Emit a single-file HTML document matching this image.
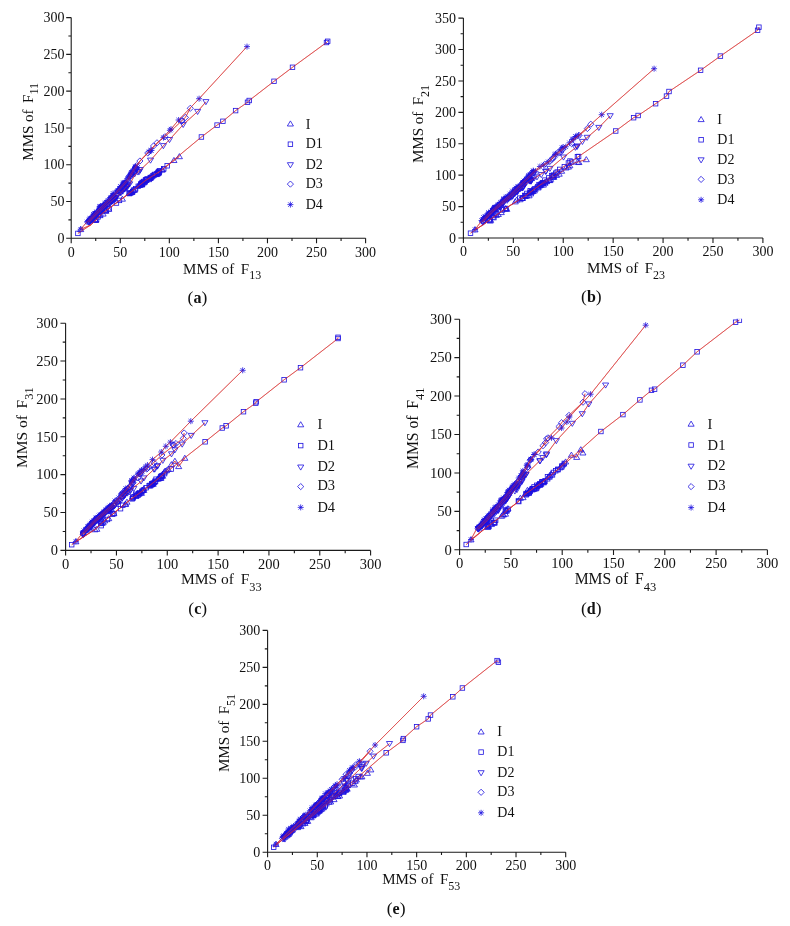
<!DOCTYPE html>
<html lang="en"><head><meta charset="utf-8"><title>MMS scatter figure</title>
<style>html,body{margin:0;padding:0;background:#fff}svg{display:block;will-change:transform}text{font-family:"Liberation Serif", "DejaVu Serif", serif;fill:#111}.ax{stroke:#1a1a1a;stroke-width:1.1;fill:none}.ln{stroke:#d03a26;stroke-width:0.65;fill:none}.over{stroke-opacity:0.5;stroke:#e02a3a;stroke-width:1}.m{stroke:#1c10e0;stroke-width:0.8;fill:none}.ms{stroke:#1c10e0;stroke-width:0.8;fill:none}</style></head><body>
<svg width="790" height="926" viewBox="0 0 790 926">
<rect width="790" height="926" fill="#fff"/>
<defs>
<path id="mI" class="m" d="M0,-2.9L3.05,2.2L-3.05,2.2Z"/>
<rect id="mD1" class="m" x="-2.25" y="-2.25" width="4.5" height="4.5"/>
<path id="mD2" class="m" d="M0,2.9L3.05,-2.2L-3.05,-2.2Z"/>
<path id="mD3" class="m" d="M0,-3.1L3.1,0L0,3.1L-3.1,0Z"/>
<path id="mD4" class="ms" d="M-3,0H3M0,-3V3M-2.2,-2.2L2.2,2.2M-2.2,2.2L2.2,-2.2"/>
</defs>
<g id="panel-a">
<path class="ax" d="M71.2,17.6V238.3H365.6M71.2,238.3v5M95.73,238.3v2.8M120.27,238.3v5M144.8,238.3v2.8M169.33,238.3v5M193.87,238.3v2.8M218.4,238.3v5M242.93,238.3v2.8M267.47,238.3v5M292,238.3v2.8M316.53,238.3v5M341.07,238.3v2.8M365.6,238.3v5M71.2,238.3h-5M71.2,219.91h-2.8M71.2,201.52h-5M71.2,183.12h-2.8M71.2,164.73h-5M71.2,146.34h-2.8M71.2,127.95h-5M71.2,109.56h-2.8M71.2,91.17h-5M71.2,72.78h-2.8M71.2,54.38h-5M71.2,35.99h-2.8M71.2,17.6h-5"/>
<g font-size="14">
<g text-anchor="middle">
<text x="71.2" y="256.7">0</text>
<text x="120.27" y="256.7">50</text>
<text x="169.33" y="256.7">100</text>
<text x="218.4" y="256.7">150</text>
<text x="267.47" y="256.7">200</text>
<text x="316.53" y="256.7">250</text>
<text x="365.6" y="256.7">300</text>
</g><g text-anchor="end">
<text x="64.5" y="242.9">0</text>
<text x="64.5" y="206.12">50</text>
<text x="64.5" y="169.33">100</text>
<text x="64.5" y="132.55">150</text>
<text x="64.5" y="95.77">200</text>
<text x="64.5" y="58.98">250</text>
<text x="64.5" y="22.2">300</text>
</g></g>
<text x="183.1" y="273.9" font-size="15" xml:space="preserve">MMS of<tspan dx="6.5">F</tspan><tspan font-size="12" dy="5.4">13</tspan></text>
<text transform="translate(33.1,160.7) rotate(-90)" font-size="15" xml:space="preserve">MMS of<tspan dx="6.5">F</tspan><tspan font-size="12" dy="5">11</tspan></text>
<text x="197.4" y="302.7" font-size="17.5" text-anchor="middle">(<tspan font-weight="bold" font-size="16">a</tspan>)</text>
<use href="#mI" x="290.4" y="123.8"/>
<text x="305.7" y="128.7" font-size="14">I</text>
<use href="#mD1" x="290.4" y="144.2"/>
<text x="305.7" y="148.4" font-size="14">D1</text>
<use href="#mD2" x="290.4" y="164.9"/>
<text x="305.7" y="168.5" font-size="14">D2</text>
<use href="#mD3" x="290.4" y="184.1"/>
<text x="305.7" y="188" font-size="14">D3</text>
<use href="#mD4" x="290.4" y="204.6"/>
<text x="305.7" y="208.5" font-size="14">D4</text>
<clipPath id="clip-a"><rect x="71.2" y="17.2" width="302.4" height="221.1"/></clipPath>
<g clip-path="url(#clip-a)">
<g class="ln">
<polyline points="80.7,229.4 91,224.8 102.4,213.4 117.6,202 130.4,192.5 145.6,180.4 160,171.3 173.8,160.8 179.4,156.5"/>
<polyline points="77.9,233.4 91,224.8 102.4,213.4 117.6,202 130.4,192.5 145.6,180.4 160,171.3 201.4,137 217.1,125.1 222.9,121.3 235.6,110.6 247.5,102.3 249.2,100.5 274,81.3 292.5,67.3 326.5,42.5 327.7,41.3"/>
<polyline points="89.2,222.2 100.2,211.2 116.5,196.8 130.2,183.4 134.5,175.5 150.5,160.3 163.4,145.8 169.5,139.7 183.2,124.6 197.6,111.6 205.9,101.8"/>
<polyline points="88.7,221.8 99.3,210.4 114.9,195.2 128.1,180.4 137,166 139.9,161 157,142.8 164.9,136.7 185.4,117.4 190.3,108.3"/>
<polyline points="80.7,229.2 87.8,221 98.4,209.6 114,194.4 127.2,179.6 136.5,164.8 149,151.9 171,129.1 178.6,120 199.1,98.7 247,46.6"/>
</g>
<g class="series-I">
<use href="#mI" x="103.08" y="213.87"/>
<use href="#mI" x="95.58" y="219.71"/>
<use href="#mI" x="95.46" y="220.23"/>
<use href="#mI" x="105.87" y="211.03"/>
<use href="#mI" x="105.56" y="210.82"/>
<use href="#mI" x="99.35" y="214.69"/>
<use href="#mI" x="108.71" y="209.04"/>
<use href="#mI" x="95.47" y="220.14"/>
<use href="#mI" x="122.41" y="198.98"/>
<use href="#mI" x="143.89" y="182.59"/>
<use href="#mI" x="140.19" y="184.96"/>
<use href="#mI" x="130.36" y="192.84"/>
<use href="#mI" x="140.97" y="184.08"/>
<use href="#mI" x="139.25" y="185.36"/>
<use href="#mI" x="143.21" y="181.84"/>
<use href="#mI" x="138.61" y="185.2"/>
<use href="#mI" x="141.89" y="184.68"/>
<use href="#mI" x="130.6" y="192.38"/>
<use href="#mI" x="131.63" y="191.45"/>
<use href="#mI" x="141.07" y="183.31"/>
<use href="#mI" x="144.54" y="181.86"/>
<use href="#mI" x="139.35" y="184.8"/>
<use href="#mI" x="144.5" y="181.36"/>
<use href="#mI" x="141.47" y="184.42"/>
<use href="#mI" x="141.32" y="184.3"/>
<use href="#mI" x="133.72" y="190.08"/>
<use href="#mI" x="129.19" y="193.32"/>
<use href="#mI" x="131.68" y="192.28"/>
<use href="#mI" x="131.33" y="192.32"/>
<use href="#mI" x="158.67" y="172.65"/>
<use href="#mI" x="154.64" y="174.31"/>
<use href="#mI" x="158.17" y="172.99"/>
<use href="#mI" x="152.34" y="175.63"/>
<use href="#mI" x="149.08" y="178.64"/>
<use href="#mI" x="149.56" y="177.67"/>
<use href="#mI" x="150.79" y="177.37"/>
<use href="#mI" x="150.99" y="175.92"/>
<use href="#mI" x="155.48" y="173.77"/>
<use href="#mI" x="156.52" y="174.36"/>
<use href="#mI" x="157.59" y="172.4"/>
<use href="#mI" x="151.97" y="176.45"/>
<use href="#mI" x="155.37" y="174.38"/>
<use href="#mI" x="149.89" y="178.23"/>
<use href="#mI" x="162.02" y="169.94"/>
<use href="#mI" x="162.46" y="169.49"/>
<use href="#mI" x="173.94" y="160.33"/>
<use href="#mI" x="80.7" y="229.4"/>
<use href="#mI" x="179.4" y="156.5"/>
</g>
<g class="series-D1">
<use href="#mD1" x="100.59" y="215.47"/>
<use href="#mD1" x="98.05" y="216.89"/>
<use href="#mD1" x="106.41" y="210.29"/>
<use href="#mD1" x="96.59" y="219.45"/>
<use href="#mD1" x="116.42" y="203.03"/>
<use href="#mD1" x="119.45" y="200.4"/>
<use href="#mD1" x="109.15" y="208.83"/>
<use href="#mD1" x="129.23" y="192.94"/>
<use href="#mD1" x="133.55" y="190.12"/>
<use href="#mD1" x="142.28" y="182.36"/>
<use href="#mD1" x="135.04" y="189.9"/>
<use href="#mD1" x="147.12" y="178.88"/>
<use href="#mD1" x="143.71" y="181.49"/>
<use href="#mD1" x="138.26" y="186.3"/>
<use href="#mD1" x="129.45" y="193.59"/>
<use href="#mD1" x="141.84" y="183.53"/>
<use href="#mD1" x="146.76" y="180.13"/>
<use href="#mD1" x="135.61" y="188.78"/>
<use href="#mD1" x="132.68" y="191.54"/>
<use href="#mD1" x="145.43" y="180.18"/>
<use href="#mD1" x="140.8" y="184.03"/>
<use href="#mD1" x="141.42" y="183.63"/>
<use href="#mD1" x="142.28" y="182.91"/>
<use href="#mD1" x="142.88" y="183.18"/>
<use href="#mD1" x="146.2" y="180.18"/>
<use href="#mD1" x="146.01" y="179.78"/>
<use href="#mD1" x="149.11" y="179.46"/>
<use href="#mD1" x="157.89" y="173.72"/>
<use href="#mD1" x="159.56" y="171.03"/>
<use href="#mD1" x="154.17" y="175.08"/>
<use href="#mD1" x="159.36" y="170.99"/>
<use href="#mD1" x="158.47" y="172.3"/>
<use href="#mD1" x="157.81" y="173.14"/>
<use href="#mD1" x="150.84" y="177.85"/>
<use href="#mD1" x="150.21" y="177.53"/>
<use href="#mD1" x="158.59" y="172.53"/>
<use href="#mD1" x="154.89" y="174.39"/>
<use href="#mD1" x="158.49" y="171.97"/>
<use href="#mD1" x="167.19" y="165.78"/>
<use href="#mD1" x="163.73" y="168.83"/>
<use href="#mD1" x="77.9" y="233.4"/>
<use href="#mD1" x="201.4" y="137"/>
<use href="#mD1" x="217.1" y="125.1"/>
<use href="#mD1" x="222.9" y="121.3"/>
<use href="#mD1" x="235.6" y="110.6"/>
<use href="#mD1" x="247.5" y="102.3"/>
<use href="#mD1" x="249.2" y="100.5"/>
<use href="#mD1" x="274" y="81.3"/>
<use href="#mD1" x="292.5" y="67.3"/>
<use href="#mD1" x="326.5" y="42.5"/>
<use href="#mD1" x="327.7" y="41.3"/>
</g>
<g class="series-D2">
<use href="#mD2" x="96.4" y="214.49"/>
<use href="#mD2" x="114.44" y="199.13"/>
<use href="#mD2" x="114.68" y="198.13"/>
<use href="#mD2" x="114.86" y="198.8"/>
<use href="#mD2" x="124.01" y="188.86"/>
<use href="#mD2" x="124.41" y="189.07"/>
<use href="#mD2" x="116.73" y="196.03"/>
<use href="#mD2" x="120.41" y="192.72"/>
<use href="#mD2" x="111.73" y="201.2"/>
<use href="#mD2" x="129.66" y="184.05"/>
<use href="#mD2" x="115.62" y="197.82"/>
<use href="#mD2" x="95.82" y="216.43"/>
<use href="#mD2" x="92.53" y="219.14"/>
<use href="#mD2" x="120.06" y="192.09"/>
<use href="#mD2" x="96.14" y="214.15"/>
<use href="#mD2" x="96.6" y="214.45"/>
<use href="#mD2" x="99.68" y="211.94"/>
<use href="#mD2" x="112.35" y="201.12"/>
<use href="#mD2" x="96.11" y="215.15"/>
<use href="#mD2" x="104.86" y="207.76"/>
<use href="#mD2" x="122.83" y="191.26"/>
<use href="#mD2" x="109.77" y="203.17"/>
<use href="#mD2" x="117.62" y="195.53"/>
<use href="#mD2" x="134.6" y="174.07"/>
<use href="#mD2" x="93.99" y="217.59"/>
<use href="#mD2" x="124.85" y="188.96"/>
<use href="#mD2" x="109.23" y="203.17"/>
<use href="#mD2" x="101.63" y="211.69"/>
<use href="#mD2" x="115.27" y="197.55"/>
<use href="#mD2" x="91.66" y="218.9"/>
<use href="#mD2" x="93.09" y="218.52"/>
<use href="#mD2" x="126.66" y="188.27"/>
<use href="#mD2" x="92.57" y="218.58"/>
<use href="#mD2" x="103.78" y="206.69"/>
<use href="#mD2" x="101.84" y="210.69"/>
<use href="#mD2" x="100.32" y="211.54"/>
<use href="#mD2" x="91.62" y="220.46"/>
<use href="#mD2" x="103.19" y="208.01"/>
<use href="#mD2" x="112.28" y="201.25"/>
<use href="#mD2" x="90.03" y="221.49"/>
<use href="#mD2" x="122.5" y="190.52"/>
<use href="#mD2" x="111.14" y="201.58"/>
<use href="#mD2" x="126.24" y="187.15"/>
<use href="#mD2" x="127.02" y="186.62"/>
<use href="#mD2" x="121.1" y="192.62"/>
<use href="#mD2" x="127.15" y="185.28"/>
<use href="#mD2" x="107.65" y="204.73"/>
<use href="#mD2" x="95.8" y="216.74"/>
<use href="#mD2" x="101" y="210.82"/>
<use href="#mD2" x="128.18" y="185.08"/>
<use href="#mD2" x="102.13" y="210.08"/>
<use href="#mD2" x="110.51" y="202.95"/>
<use href="#mD2" x="102.4" y="209.83"/>
<use href="#mD2" x="114.3" y="200.55"/>
<use href="#mD2" x="103.36" y="208.42"/>
<use href="#mD2" x="140.26" y="169.7"/>
<use href="#mD2" x="137.97" y="172.16"/>
<use href="#mD2" x="139.3" y="171.6"/>
<use href="#mD2" x="89.2" y="222.2"/>
<use href="#mD2" x="150.5" y="160.3"/>
<use href="#mD2" x="163.4" y="145.8"/>
<use href="#mD2" x="169.5" y="139.7"/>
<use href="#mD2" x="183.2" y="124.6"/>
<use href="#mD2" x="197.6" y="111.6"/>
<use href="#mD2" x="205.9" y="101.8"/>
</g>
<g class="series-D3">
<use href="#mD3" x="91.08" y="219.72"/>
<use href="#mD3" x="99.48" y="209.34"/>
<use href="#mD3" x="124.57" y="183.03"/>
<use href="#mD3" x="130.86" y="175.84"/>
<use href="#mD3" x="136.68" y="168.08"/>
<use href="#mD3" x="120.57" y="190.09"/>
<use href="#mD3" x="131.28" y="173.65"/>
<use href="#mD3" x="128.27" y="181.23"/>
<use href="#mD3" x="113.47" y="195.93"/>
<use href="#mD3" x="127.81" y="178.84"/>
<use href="#mD3" x="121.57" y="187.13"/>
<use href="#mD3" x="90.48" y="220.66"/>
<use href="#mD3" x="94.06" y="215.6"/>
<use href="#mD3" x="118.55" y="189.85"/>
<use href="#mD3" x="113.12" y="197.73"/>
<use href="#mD3" x="124.3" y="184.04"/>
<use href="#mD3" x="121.2" y="189.32"/>
<use href="#mD3" x="101.19" y="209.1"/>
<use href="#mD3" x="124.13" y="186.15"/>
<use href="#mD3" x="135.4" y="167.92"/>
<use href="#mD3" x="111.53" y="197.12"/>
<use href="#mD3" x="118.39" y="190.95"/>
<use href="#mD3" x="95.8" y="215.27"/>
<use href="#mD3" x="103.34" y="206.36"/>
<use href="#mD3" x="91.55" y="219.66"/>
<use href="#mD3" x="121.97" y="186.59"/>
<use href="#mD3" x="113.17" y="196.59"/>
<use href="#mD3" x="94.65" y="215.36"/>
<use href="#mD3" x="136.02" y="167.66"/>
<use href="#mD3" x="111.36" y="197.51"/>
<use href="#mD3" x="110.37" y="200.04"/>
<use href="#mD3" x="134.51" y="171.13"/>
<use href="#mD3" x="94.47" y="214.18"/>
<use href="#mD3" x="95.33" y="214.18"/>
<use href="#mD3" x="131.44" y="174.37"/>
<use href="#mD3" x="131.96" y="174.01"/>
<use href="#mD3" x="88.39" y="221.65"/>
<use href="#mD3" x="103.54" y="207"/>
<use href="#mD3" x="103.98" y="205.82"/>
<use href="#mD3" x="125.08" y="183.63"/>
<use href="#mD3" x="133.23" y="170.32"/>
<use href="#mD3" x="102.39" y="207.58"/>
<use href="#mD3" x="136.59" y="165.75"/>
<use href="#mD3" x="109.35" y="200.8"/>
<use href="#mD3" x="93.8" y="216.03"/>
<use href="#mD3" x="133.89" y="171.57"/>
<use href="#mD3" x="113.54" y="197.29"/>
<use href="#mD3" x="135.48" y="168.6"/>
<use href="#mD3" x="120.07" y="189.57"/>
<use href="#mD3" x="115.2" y="194.62"/>
<use href="#mD3" x="123.37" y="185.26"/>
<use href="#mD3" x="119.8" y="189.88"/>
<use href="#mD3" x="133.81" y="172.28"/>
<use href="#mD3" x="105.09" y="205.62"/>
<use href="#mD3" x="135.81" y="168.85"/>
<use href="#mD3" x="153.54" y="145.99"/>
<use href="#mD3" x="147.81" y="152.99"/>
<use href="#mD3" x="181.45" y="120.91"/>
<use href="#mD3" x="182.04" y="120.88"/>
<use href="#mD3" x="88.7" y="221.8"/>
<use href="#mD3" x="139.9" y="161"/>
<use href="#mD3" x="157" y="142.8"/>
<use href="#mD3" x="164.9" y="136.7"/>
<use href="#mD3" x="185.4" y="117.4"/>
<use href="#mD3" x="190.3" y="108.3"/>
</g>
<g class="series-D4">
<use href="#mD4" x="94.74" y="213.89"/>
<use href="#mD4" x="104.9" y="203.81"/>
<use href="#mD4" x="99.68" y="206.94"/>
<use href="#mD4" x="124.29" y="182.79"/>
<use href="#mD4" x="113.3" y="195.23"/>
<use href="#mD4" x="90.66" y="219.48"/>
<use href="#mD4" x="93.37" y="214.32"/>
<use href="#mD4" x="130.33" y="175.27"/>
<use href="#mD4" x="99.64" y="208.45"/>
<use href="#mD4" x="135.25" y="166.48"/>
<use href="#mD4" x="89.55" y="220.06"/>
<use href="#mD4" x="131.29" y="172.32"/>
<use href="#mD4" x="87.03" y="221.97"/>
<use href="#mD4" x="129.14" y="176.22"/>
<use href="#mD4" x="100.22" y="208.27"/>
<use href="#mD4" x="113.07" y="193.41"/>
<use href="#mD4" x="122.86" y="183.03"/>
<use href="#mD4" x="110.18" y="197.94"/>
<use href="#mD4" x="126.4" y="182.14"/>
<use href="#mD4" x="119.48" y="188.5"/>
<use href="#mD4" x="99.74" y="207.06"/>
<use href="#mD4" x="93.8" y="215.42"/>
<use href="#mD4" x="116.24" y="191.94"/>
<use href="#mD4" x="117.74" y="190.66"/>
<use href="#mD4" x="111.08" y="197.59"/>
<use href="#mD4" x="130.96" y="173.18"/>
<use href="#mD4" x="100.62" y="207.82"/>
<use href="#mD4" x="103.44" y="205.3"/>
<use href="#mD4" x="120.69" y="186.82"/>
<use href="#mD4" x="120.92" y="186.74"/>
<use href="#mD4" x="89.24" y="219.8"/>
<use href="#mD4" x="121.63" y="187.28"/>
<use href="#mD4" x="123.87" y="182.99"/>
<use href="#mD4" x="135.21" y="167.53"/>
<use href="#mD4" x="99.29" y="210"/>
<use href="#mD4" x="102.8" y="205.55"/>
<use href="#mD4" x="97.09" y="211.79"/>
<use href="#mD4" x="120.77" y="186.95"/>
<use href="#mD4" x="107.43" y="202.86"/>
<use href="#mD4" x="94.93" y="213.57"/>
<use href="#mD4" x="107.88" y="200.23"/>
<use href="#mD4" x="124.87" y="183.33"/>
<use href="#mD4" x="104.41" y="205.61"/>
<use href="#mD4" x="125.16" y="182.81"/>
<use href="#mD4" x="106.15" y="202.21"/>
<use href="#mD4" x="96.48" y="212.05"/>
<use href="#mD4" x="105.31" y="202.98"/>
<use href="#mD4" x="135.35" y="167.42"/>
<use href="#mD4" x="128.43" y="177.32"/>
<use href="#mD4" x="89.8" y="218.5"/>
<use href="#mD4" x="133.19" y="170.91"/>
<use href="#mD4" x="132.38" y="172.2"/>
<use href="#mD4" x="127.76" y="178.54"/>
<use href="#mD4" x="90.43" y="219.74"/>
<use href="#mD4" x="100.43" y="206.15"/>
<use href="#mD4" x="151.47" y="150.46"/>
<use href="#mD4" x="163.49" y="137.63"/>
<use href="#mD4" x="150.6" y="150.28"/>
<use href="#mD4" x="169.89" y="130.31"/>
<use href="#mD4" x="80.7" y="229.2"/>
<use href="#mD4" x="149" y="151.9"/>
<use href="#mD4" x="171" y="129.1"/>
<use href="#mD4" x="178.6" y="120"/>
<use href="#mD4" x="199.1" y="98.7"/>
<use href="#mD4" x="247" y="46.6"/>
</g>
<g class="ln over">
<polyline points="80.7,229.4 91,224.8 102.4,213.4 117.6,202 130.4,192.5 145.6,180.4 160,171.3 173.8,160.8 179.4,156.5"/>
<polyline points="77.9,233.4 91,224.8 102.4,213.4 117.6,202 130.4,192.5 145.6,180.4 160,171.3 201.4,137 217.1,125.1 222.9,121.3 235.6,110.6 247.5,102.3 249.2,100.5 274,81.3 292.5,67.3 326.5,42.5 327.7,41.3"/>
<polyline points="89.2,222.2 100.2,211.2 116.5,196.8 130.2,183.4 134.5,175.5 150.5,160.3 163.4,145.8 169.5,139.7 183.2,124.6 197.6,111.6 205.9,101.8"/>
<polyline points="88.7,221.8 99.3,210.4 114.9,195.2 128.1,180.4 137,166 139.9,161 157,142.8 164.9,136.7 185.4,117.4 190.3,108.3"/>
<polyline points="80.7,229.2 87.8,221 98.4,209.6 114,194.4 127.2,179.6 136.5,164.8 149,151.9 171,129.1 178.6,120 199.1,98.7 247,46.6"/>
</g>
</g>
</g>
<g id="panel-b">
<path class="ax" d="M463.4,18.1V238H762.9M463.4,238v5M488.36,238v2.8M513.32,238v5M538.27,238v2.8M563.23,238v5M588.19,238v2.8M613.15,238v5M638.11,238v2.8M663.07,238v5M688.02,238v2.8M712.98,238v5M737.94,238v2.8M762.9,238v5M463.4,238h-5M463.4,222.29h-2.8M463.4,206.59h-5M463.4,190.88h-2.8M463.4,175.17h-5M463.4,159.46h-2.8M463.4,143.76h-5M463.4,128.05h-2.8M463.4,112.34h-5M463.4,96.64h-2.8M463.4,80.93h-5M463.4,65.22h-2.8M463.4,49.51h-5M463.4,33.81h-2.8M463.4,18.1h-5"/>
<g font-size="14">
<g text-anchor="middle">
<text x="463.4" y="256.4">0</text>
<text x="513.32" y="256.4">50</text>
<text x="563.23" y="256.4">100</text>
<text x="613.15" y="256.4">150</text>
<text x="663.07" y="256.4">200</text>
<text x="712.98" y="256.4">250</text>
<text x="762.9" y="256.4">300</text>
</g><g text-anchor="end">
<text x="456" y="242.6">0</text>
<text x="456" y="211.19">50</text>
<text x="456" y="179.77">100</text>
<text x="456" y="148.36">150</text>
<text x="456" y="116.94">200</text>
<text x="456" y="85.53">250</text>
<text x="456" y="54.11">300</text>
<text x="456" y="22.7">350</text>
</g></g>
<text x="587" y="273.4" font-size="15" xml:space="preserve">MMS of<tspan dx="6.5">F</tspan><tspan font-size="12" dy="5.8">23</tspan></text>
<text transform="translate(423.1,163) rotate(-90)" font-size="15" xml:space="preserve">MMS of<tspan dx="6.5">F</tspan><tspan font-size="12" dy="5.9">21</tspan></text>
<text x="591.4" y="302.4" font-size="17.5" text-anchor="middle">(<tspan font-weight="bold" font-size="16">b</tspan>)</text>
<use href="#mI" x="701.1" y="119.4"/>
<text x="717.3" y="124.4" font-size="14">I</text>
<use href="#mD1" x="701.1" y="139.8"/>
<text x="717.3" y="144.3" font-size="14">D1</text>
<use href="#mD2" x="701.1" y="160"/>
<text x="717.3" y="164.2" font-size="14">D2</text>
<use href="#mD3" x="701.1" y="179.4"/>
<text x="717.3" y="183.6" font-size="14">D3</text>
<use href="#mD4" x="701.1" y="199.8"/>
<text x="717.3" y="203.7" font-size="14">D4</text>
<clipPath id="clip-b"><rect x="463.4" y="17.7" width="307.5" height="220.3"/></clipPath>
<g clip-path="url(#clip-b)">
<g class="ln">
<polyline points="475,229.7 483,224.8 494.4,216.4 509.6,205.8 525,196.3 538,186.4 549.4,180 560,173 574.2,163 586.3,159.5"/>
<polyline points="470.5,233.2 483,224.8 494.4,216.4 509.6,205.8 525,196.3 538,186.4 549.4,177.5 559.7,169.4 578.6,156.5 615.7,131 633.6,117.7 638.1,115.5 655.6,103.7 666.5,96.1 669,91.5 700.6,70.3 720.4,56.1 757.6,30.3 758.9,27.2"/>
<polyline points="483,222.2 492.5,212.2 511.5,196.8 527.5,182.5 540,174.7 549.9,168.6 563.5,157.2 577.1,146.6 582.4,141.6 587.1,137.5 598.8,127.6 610.2,115.9"/>
<polyline points="482.5,221.6 492,211.6 510.5,195.8 526,180.8 535.2,171.5 549.7,161.5 552.8,158 562.7,149.5 587.4,128.5 590.8,124.2"/>
<polyline points="475,229.5 481.5,221.2 491,211 509.6,195 525,180 534.5,170.8 539.9,166.5 548.2,161.8 555,154.6 569.5,142.8 573.3,139 578.6,135.2 593.2,122.3 601.7,114.7 654.1,68.7"/>
</g>
<g class="series-I">
<use href="#mI" x="522.25" y="198.29"/>
<use href="#mI" x="505.73" y="208.8"/>
<use href="#mI" x="501.3" y="212.38"/>
<use href="#mI" x="505.53" y="208.62"/>
<use href="#mI" x="516.63" y="200.04"/>
<use href="#mI" x="515.26" y="201.69"/>
<use href="#mI" x="498.28" y="214.31"/>
<use href="#mI" x="490.18" y="220.87"/>
<use href="#mI" x="496.27" y="215.26"/>
<use href="#mI" x="506.83" y="209.15"/>
<use href="#mI" x="520.06" y="199.53"/>
<use href="#mI" x="490.57" y="220.06"/>
<use href="#mI" x="550.61" y="179.15"/>
<use href="#mI" x="539.27" y="184.54"/>
<use href="#mI" x="552.86" y="177.03"/>
<use href="#mI" x="528.84" y="192.99"/>
<use href="#mI" x="544.95" y="183.11"/>
<use href="#mI" x="531.58" y="191.9"/>
<use href="#mI" x="530.34" y="191.92"/>
<use href="#mI" x="535.11" y="189.15"/>
<use href="#mI" x="543.39" y="184.89"/>
<use href="#mI" x="549.07" y="180.3"/>
<use href="#mI" x="542.46" y="182.73"/>
<use href="#mI" x="559.17" y="174"/>
<use href="#mI" x="529.05" y="195.62"/>
<use href="#mI" x="546.62" y="181.49"/>
<use href="#mI" x="556.53" y="175.24"/>
<use href="#mI" x="553.79" y="177.13"/>
<use href="#mI" x="546.39" y="181.16"/>
<use href="#mI" x="538.23" y="186.82"/>
<use href="#mI" x="533.07" y="189"/>
<use href="#mI" x="532.19" y="191.23"/>
<use href="#mI" x="549.95" y="180.39"/>
<use href="#mI" x="531.91" y="190.2"/>
<use href="#mI" x="526.82" y="195.71"/>
<use href="#mI" x="544.76" y="182.25"/>
<use href="#mI" x="530.04" y="191.55"/>
<use href="#mI" x="534.31" y="190.73"/>
<use href="#mI" x="535.42" y="187.71"/>
<use href="#mI" x="540.98" y="183.33"/>
<use href="#mI" x="538.1" y="187.76"/>
<use href="#mI" x="532.86" y="191.23"/>
<use href="#mI" x="569.84" y="165.53"/>
<use href="#mI" x="577.61" y="162.04"/>
<use href="#mI" x="561.62" y="171.06"/>
<use href="#mI" x="578.94" y="162.34"/>
<use href="#mI" x="568.41" y="166.88"/>
<use href="#mI" x="566.02" y="167.78"/>
<use href="#mI" x="475" y="229.7"/>
<use href="#mI" x="586.3" y="159.5"/>
</g>
<g class="series-D1">
<use href="#mD1" x="490.16" y="218.97"/>
<use href="#mD1" x="522.86" y="198.04"/>
<use href="#mD1" x="522.44" y="198.09"/>
<use href="#mD1" x="489.4" y="220.07"/>
<use href="#mD1" x="519.8" y="198.15"/>
<use href="#mD1" x="493.01" y="216.97"/>
<use href="#mD1" x="502.48" y="209.97"/>
<use href="#mD1" x="493.87" y="217.6"/>
<use href="#mD1" x="505.98" y="208.45"/>
<use href="#mD1" x="495.98" y="213.62"/>
<use href="#mD1" x="524.67" y="195.42"/>
<use href="#mD1" x="525.51" y="195.67"/>
<use href="#mD1" x="544.89" y="180.13"/>
<use href="#mD1" x="534.42" y="189.18"/>
<use href="#mD1" x="539.02" y="184.63"/>
<use href="#mD1" x="540.5" y="185.17"/>
<use href="#mD1" x="541.7" y="184.94"/>
<use href="#mD1" x="551.76" y="175.52"/>
<use href="#mD1" x="541.25" y="184.29"/>
<use href="#mD1" x="539.97" y="185.7"/>
<use href="#mD1" x="543.08" y="183.28"/>
<use href="#mD1" x="526.87" y="193.42"/>
<use href="#mD1" x="542.99" y="183.27"/>
<use href="#mD1" x="537.87" y="186.57"/>
<use href="#mD1" x="555.7" y="173.18"/>
<use href="#mD1" x="553.85" y="176.54"/>
<use href="#mD1" x="542.82" y="183.02"/>
<use href="#mD1" x="530.23" y="190.73"/>
<use href="#mD1" x="525.84" y="196.36"/>
<use href="#mD1" x="530.05" y="192.32"/>
<use href="#mD1" x="553.74" y="175.13"/>
<use href="#mD1" x="557.22" y="172.04"/>
<use href="#mD1" x="542.16" y="183.31"/>
<use href="#mD1" x="531.2" y="193.67"/>
<use href="#mD1" x="548.72" y="177.93"/>
<use href="#mD1" x="552.73" y="175.91"/>
<use href="#mD1" x="571.56" y="162.05"/>
<use href="#mD1" x="570.01" y="161.03"/>
<use href="#mD1" x="564.35" y="166.64"/>
<use href="#mD1" x="568.42" y="162.97"/>
<use href="#mD1" x="577.45" y="156.68"/>
<use href="#mD1" x="470.5" y="233.2"/>
<use href="#mD1" x="559.7" y="169.4"/>
<use href="#mD1" x="578.6" y="156.5"/>
<use href="#mD1" x="615.7" y="131"/>
<use href="#mD1" x="633.6" y="117.7"/>
<use href="#mD1" x="638.1" y="115.5"/>
<use href="#mD1" x="655.6" y="103.7"/>
<use href="#mD1" x="666.5" y="96.1"/>
<use href="#mD1" x="669" y="91.5"/>
<use href="#mD1" x="700.6" y="70.3"/>
<use href="#mD1" x="720.4" y="56.1"/>
<use href="#mD1" x="757.6" y="30.3"/>
<use href="#mD1" x="758.9" y="27.2"/>
</g>
<g class="series-D2">
<use href="#mD2" x="523.27" y="186.2"/>
<use href="#mD2" x="523.19" y="187.43"/>
<use href="#mD2" x="495.63" y="207.5"/>
<use href="#mD2" x="513.85" y="194.01"/>
<use href="#mD2" x="483.34" y="222.18"/>
<use href="#mD2" x="515.17" y="193.43"/>
<use href="#mD2" x="530.68" y="181.01"/>
<use href="#mD2" x="517.65" y="191.34"/>
<use href="#mD2" x="502.14" y="205.05"/>
<use href="#mD2" x="494.38" y="209.81"/>
<use href="#mD2" x="493.47" y="210.58"/>
<use href="#mD2" x="490.44" y="214.48"/>
<use href="#mD2" x="491.43" y="214.42"/>
<use href="#mD2" x="529.27" y="180.78"/>
<use href="#mD2" x="497.64" y="208.62"/>
<use href="#mD2" x="512.43" y="196.43"/>
<use href="#mD2" x="507.18" y="200.41"/>
<use href="#mD2" x="496.28" y="209.11"/>
<use href="#mD2" x="510.9" y="197.35"/>
<use href="#mD2" x="486.11" y="218.84"/>
<use href="#mD2" x="512.43" y="196.04"/>
<use href="#mD2" x="493.17" y="210.82"/>
<use href="#mD2" x="517.11" y="191.49"/>
<use href="#mD2" x="499.35" y="206.81"/>
<use href="#mD2" x="530.28" y="179.8"/>
<use href="#mD2" x="483.74" y="220.91"/>
<use href="#mD2" x="507.63" y="199.17"/>
<use href="#mD2" x="495.23" y="210.5"/>
<use href="#mD2" x="484.68" y="221.01"/>
<use href="#mD2" x="520.23" y="188.46"/>
<use href="#mD2" x="496.65" y="208.23"/>
<use href="#mD2" x="524.45" y="184.85"/>
<use href="#mD2" x="517.33" y="191.76"/>
<use href="#mD2" x="529.98" y="181.21"/>
<use href="#mD2" x="495.47" y="208.12"/>
<use href="#mD2" x="522.13" y="188.17"/>
<use href="#mD2" x="500.48" y="207.27"/>
<use href="#mD2" x="516.2" y="191.45"/>
<use href="#mD2" x="534.06" y="178.14"/>
<use href="#mD2" x="520.27" y="188.66"/>
<use href="#mD2" x="521.06" y="187.7"/>
<use href="#mD2" x="494.11" y="210.6"/>
<use href="#mD2" x="531.34" y="180.27"/>
<use href="#mD2" x="489.02" y="215.98"/>
<use href="#mD2" x="490.64" y="214.32"/>
<use href="#mD2" x="519.26" y="188.68"/>
<use href="#mD2" x="522.59" y="187.74"/>
<use href="#mD2" x="502.6" y="203.14"/>
<use href="#mD2" x="531.05" y="181.34"/>
<use href="#mD2" x="531.66" y="179.92"/>
<use href="#mD2" x="545.95" y="171.18"/>
<use href="#mD2" x="576.88" y="146.19"/>
<use href="#mD2" x="575.4" y="147.43"/>
<use href="#mD2" x="541.29" y="174.75"/>
<use href="#mD2" x="545.68" y="171.63"/>
<use href="#mD2" x="536.99" y="177.02"/>
<use href="#mD2" x="483" y="222.2"/>
<use href="#mD2" x="549.9" y="168.6"/>
<use href="#mD2" x="563.5" y="157.2"/>
<use href="#mD2" x="577.1" y="146.6"/>
<use href="#mD2" x="582.4" y="141.6"/>
<use href="#mD2" x="587.1" y="137.5"/>
<use href="#mD2" x="598.8" y="127.6"/>
<use href="#mD2" x="610.2" y="115.9"/>
</g>
<g class="series-D3">
<use href="#mD3" x="519.82" y="186.97"/>
<use href="#mD3" x="532.25" y="173.58"/>
<use href="#mD3" x="515.41" y="191.62"/>
<use href="#mD3" x="505.47" y="199.52"/>
<use href="#mD3" x="519.2" y="186.98"/>
<use href="#mD3" x="528.45" y="179.7"/>
<use href="#mD3" x="491.74" y="212.19"/>
<use href="#mD3" x="522.56" y="184.16"/>
<use href="#mD3" x="507.48" y="197.77"/>
<use href="#mD3" x="491.78" y="211.46"/>
<use href="#mD3" x="526.1" y="182.26"/>
<use href="#mD3" x="497.55" y="208.02"/>
<use href="#mD3" x="509.14" y="197.99"/>
<use href="#mD3" x="486.91" y="216.11"/>
<use href="#mD3" x="523.53" y="182.46"/>
<use href="#mD3" x="502.84" y="202.6"/>
<use href="#mD3" x="487.1" y="216.74"/>
<use href="#mD3" x="493.24" y="211.93"/>
<use href="#mD3" x="508.15" y="198.21"/>
<use href="#mD3" x="494.24" y="209.44"/>
<use href="#mD3" x="522.12" y="183.58"/>
<use href="#mD3" x="500.68" y="204.44"/>
<use href="#mD3" x="526.38" y="179.07"/>
<use href="#mD3" x="490.7" y="212.67"/>
<use href="#mD3" x="513.25" y="194.01"/>
<use href="#mD3" x="528.99" y="178.24"/>
<use href="#mD3" x="498.08" y="204.94"/>
<use href="#mD3" x="490.8" y="213.48"/>
<use href="#mD3" x="499.39" y="205.02"/>
<use href="#mD3" x="500.17" y="206.72"/>
<use href="#mD3" x="521.66" y="186.92"/>
<use href="#mD3" x="486.89" y="217.29"/>
<use href="#mD3" x="524.18" y="181.79"/>
<use href="#mD3" x="492.66" y="210.67"/>
<use href="#mD3" x="493.25" y="210.57"/>
<use href="#mD3" x="503.62" y="200.81"/>
<use href="#mD3" x="508.44" y="196.71"/>
<use href="#mD3" x="489.59" y="213.34"/>
<use href="#mD3" x="521.79" y="184.86"/>
<use href="#mD3" x="512.63" y="193.02"/>
<use href="#mD3" x="494.34" y="208.08"/>
<use href="#mD3" x="522.87" y="182.3"/>
<use href="#mD3" x="517.87" y="187.79"/>
<use href="#mD3" x="498.79" y="205.46"/>
<use href="#mD3" x="504.67" y="199.84"/>
<use href="#mD3" x="515.55" y="191.62"/>
<use href="#mD3" x="506.07" y="198.82"/>
<use href="#mD3" x="518.2" y="188.41"/>
<use href="#mD3" x="516.94" y="188.98"/>
<use href="#mD3" x="508.34" y="197.72"/>
<use href="#mD3" x="560.87" y="152.18"/>
<use href="#mD3" x="579.04" y="135.43"/>
<use href="#mD3" x="561.45" y="149.87"/>
<use href="#mD3" x="558.64" y="151.81"/>
<use href="#mD3" x="558.78" y="152.96"/>
<use href="#mD3" x="544.73" y="164.32"/>
<use href="#mD3" x="571.59" y="143.69"/>
<use href="#mD3" x="551.98" y="159.39"/>
<use href="#mD3" x="554.16" y="157.2"/>
<use href="#mD3" x="482.5" y="221.6"/>
<use href="#mD3" x="549.7" y="161.5"/>
<use href="#mD3" x="552.8" y="158"/>
<use href="#mD3" x="562.7" y="149.5"/>
<use href="#mD3" x="587.4" y="128.5"/>
<use href="#mD3" x="590.8" y="124.2"/>
</g>
<g class="series-D4">
<use href="#mD4" x="503.87" y="199.22"/>
<use href="#mD4" x="495.8" y="208.08"/>
<use href="#mD4" x="531.48" y="173.35"/>
<use href="#mD4" x="524.14" y="180.9"/>
<use href="#mD4" x="488.55" y="212.55"/>
<use href="#mD4" x="514.88" y="189.49"/>
<use href="#mD4" x="493.99" y="208.63"/>
<use href="#mD4" x="516.01" y="187.94"/>
<use href="#mD4" x="506.39" y="198.46"/>
<use href="#mD4" x="488.4" y="213.46"/>
<use href="#mD4" x="526.96" y="178.71"/>
<use href="#mD4" x="494.81" y="207.7"/>
<use href="#mD4" x="481.58" y="220.5"/>
<use href="#mD4" x="494.44" y="208.64"/>
<use href="#mD4" x="504" y="198.69"/>
<use href="#mD4" x="501.67" y="201.91"/>
<use href="#mD4" x="485" y="216.61"/>
<use href="#mD4" x="523.97" y="182.51"/>
<use href="#mD4" x="515.44" y="189.39"/>
<use href="#mD4" x="532.23" y="172.39"/>
<use href="#mD4" x="487.13" y="215.76"/>
<use href="#mD4" x="522.89" y="182.24"/>
<use href="#mD4" x="529.94" y="174.89"/>
<use href="#mD4" x="528.58" y="175.21"/>
<use href="#mD4" x="517.87" y="186.79"/>
<use href="#mD4" x="526.6" y="179.66"/>
<use href="#mD4" x="509.87" y="193.98"/>
<use href="#mD4" x="528.4" y="176.21"/>
<use href="#mD4" x="494.36" y="209.01"/>
<use href="#mD4" x="484.39" y="217.92"/>
<use href="#mD4" x="507.24" y="196.57"/>
<use href="#mD4" x="528.51" y="177.47"/>
<use href="#mD4" x="505.93" y="197.25"/>
<use href="#mD4" x="526.15" y="179.08"/>
<use href="#mD4" x="533.45" y="172.8"/>
<use href="#mD4" x="516.13" y="189.39"/>
<use href="#mD4" x="518.38" y="186.55"/>
<use href="#mD4" x="533.52" y="171.21"/>
<use href="#mD4" x="530.2" y="175.85"/>
<use href="#mD4" x="514.49" y="190.94"/>
<use href="#mD4" x="500.56" y="202.45"/>
<use href="#mD4" x="522.84" y="182.92"/>
<use href="#mD4" x="503.32" y="199.31"/>
<use href="#mD4" x="497.38" y="205.08"/>
<use href="#mD4" x="508.38" y="196.79"/>
<use href="#mD4" x="533.22" y="170.61"/>
<use href="#mD4" x="499.05" y="204.47"/>
<use href="#mD4" x="512.36" y="190.91"/>
<use href="#mD4" x="483.49" y="217.5"/>
<use href="#mD4" x="511.03" y="194.13"/>
<use href="#mD4" x="535.58" y="171.35"/>
<use href="#mD4" x="562.04" y="147.76"/>
<use href="#mD4" x="575.56" y="136.61"/>
<use href="#mD4" x="563.05" y="147.21"/>
<use href="#mD4" x="565.77" y="146.74"/>
<use href="#mD4" x="555.62" y="153.85"/>
<use href="#mD4" x="543.76" y="164.88"/>
<use href="#mD4" x="575.94" y="136.52"/>
<use href="#mD4" x="572.12" y="139.58"/>
<use href="#mD4" x="475" y="229.5"/>
<use href="#mD4" x="539.9" y="166.5"/>
<use href="#mD4" x="548.2" y="161.8"/>
<use href="#mD4" x="555" y="154.6"/>
<use href="#mD4" x="569.5" y="142.8"/>
<use href="#mD4" x="573.3" y="139"/>
<use href="#mD4" x="578.6" y="135.2"/>
<use href="#mD4" x="601.7" y="114.7"/>
<use href="#mD4" x="654.1" y="68.7"/>
</g>
<g class="ln over">
<polyline points="475,229.7 483,224.8 494.4,216.4 509.6,205.8 525,196.3 538,186.4 549.4,180 560,173 574.2,163 586.3,159.5"/>
<polyline points="470.5,233.2 483,224.8 494.4,216.4 509.6,205.8 525,196.3 538,186.4 549.4,177.5 559.7,169.4 578.6,156.5 615.7,131 633.6,117.7 638.1,115.5 655.6,103.7 666.5,96.1 669,91.5 700.6,70.3 720.4,56.1 757.6,30.3 758.9,27.2"/>
<polyline points="483,222.2 492.5,212.2 511.5,196.8 527.5,182.5 540,174.7 549.9,168.6 563.5,157.2 577.1,146.6 582.4,141.6 587.1,137.5 598.8,127.6 610.2,115.9"/>
<polyline points="482.5,221.6 492,211.6 510.5,195.8 526,180.8 535.2,171.5 549.7,161.5 552.8,158 562.7,149.5 587.4,128.5 590.8,124.2"/>
<polyline points="475,229.5 481.5,221.2 491,211 509.6,195 525,180 534.5,170.8 539.9,166.5 548.2,161.8 555,154.6 569.5,142.8 573.3,139 578.6,135.2 593.2,122.3 601.7,114.7 654.1,68.7"/>
</g>
</g>
</g>
<g id="panel-c">
<path class="ax" d="M65.6,323.2V550.4H370.6M65.6,550.4v5.16M91.02,550.4v2.89M116.43,550.4v5.16M141.85,550.4v2.89M167.27,550.4v5.16M192.68,550.4v2.89M218.1,550.4v5.16M243.52,550.4v2.89M268.93,550.4v5.16M294.35,550.4v2.89M319.77,550.4v5.16M345.18,550.4v2.89M370.6,550.4v5.16M65.6,550.4h-5.16M65.6,531.47h-2.89M65.6,512.53h-5.16M65.6,493.6h-2.89M65.6,474.67h-5.16M65.6,455.73h-2.89M65.6,436.8h-5.16M65.6,417.87h-2.89M65.6,398.93h-5.16M65.6,380h-2.89M65.6,361.07h-5.16M65.6,342.13h-2.89M65.6,323.2h-5.16"/>
<g font-size="14.46">
<g text-anchor="middle">
<text x="65.6" y="569.4">0</text>
<text x="116.43" y="569.4">50</text>
<text x="167.27" y="569.4">100</text>
<text x="218.1" y="569.4">150</text>
<text x="268.93" y="569.4">200</text>
<text x="319.77" y="569.4">250</text>
<text x="370.6" y="569.4">300</text>
</g><g text-anchor="end">
<text x="57.96" y="555.15">0</text>
<text x="57.96" y="517.29">50</text>
<text x="57.96" y="479.42">100</text>
<text x="57.96" y="441.55">150</text>
<text x="57.96" y="403.69">200</text>
<text x="57.96" y="365.82">250</text>
<text x="57.96" y="327.95">300</text>
</g></g>
<text x="181" y="584.2" font-size="15.49" xml:space="preserve">MMS of<tspan dx="6.71">F</tspan><tspan font-size="12.4" dy="6.51">33</tspan></text>
<text transform="translate(27.2,468) rotate(-90)" font-size="15.49" xml:space="preserve">MMS of<tspan dx="6.71">F</tspan><tspan font-size="12.4" dy="6.09">31</tspan></text>
<text x="197.7" y="613.9" font-size="17.5" text-anchor="middle">(<tspan font-weight="bold" font-size="16">c</tspan>)</text>
<use href="#mI" x="300.7" y="424.6"/>
<text x="317.4" y="429.2" font-size="14.46">I</text>
<use href="#mD1" x="300.7" y="445.6"/>
<text x="317.4" y="449.9" font-size="14.46">D1</text>
<use href="#mD2" x="300.7" y="467.2"/>
<text x="317.4" y="470.7" font-size="14.46">D2</text>
<use href="#mD3" x="300.7" y="486.6"/>
<text x="317.4" y="490.4" font-size="14.46">D3</text>
<use href="#mD4" x="300.7" y="507.4"/>
<text x="317.4" y="511.5" font-size="14.46">D4</text>
<clipPath id="clip-c"><rect x="65.6" y="322.8" width="313" height="227.6"/></clipPath>
<g clip-path="url(#clip-c)">
<g class="ln">
<polyline points="75.9,541.6 94.9,529.5 102.4,522.6 111.6,515.1 120.7,507.5 130.4,499.5 138,494.2 149.4,485.8 160,477.3 166.5,470.5 174.9,461.1 178.7,466.4 184.8,458.1"/>
<polyline points="71.7,544.7 94.9,529.5 102.4,522.6 111.6,515.1 120.7,507.5 130.4,499.5 138,494.2 149.4,485.8 161.5,476 205.1,441.8 222.3,428 226.1,425.8 243.5,411.7 255.7,403.1 256.2,401.8 284.1,379.8 300.5,367.7 338,338.5 338,337.3"/>
<polyline points="83.5,534.4 95.1,522.2 113.7,506.7 128,492 140,482.4 157.5,466 162.8,460.5 171.5,454 174.9,450 182.2,444.3 191.2,435.6 204.9,422.9"/>
<polyline points="83.1,534 94.5,521.5 112.7,505.6 126.6,490.4 134.9,479.4 146.8,469 161.9,455 174.2,445 183.3,438.4 184.2,433"/>
<polyline points="75.9,541.4 82.3,533.2 93.7,520.7 111.9,504.8 125.8,489.6 134.2,478.3 138.4,473.6 143.7,469.4 152.5,459.6 161.3,452 165.8,446.3 170.4,442.1 190.8,421.2 242.7,370.3"/>
</g>
<g class="series-I">
<use href="#mI" x="103.11" y="522.58"/>
<use href="#mI" x="104.62" y="520.74"/>
<use href="#mI" x="125.42" y="504.35"/>
<use href="#mI" x="96.85" y="529.09"/>
<use href="#mI" x="113.83" y="513.23"/>
<use href="#mI" x="95.01" y="529.59"/>
<use href="#mI" x="125.5" y="503.85"/>
<use href="#mI" x="108.7" y="518.46"/>
<use href="#mI" x="101.84" y="523.26"/>
<use href="#mI" x="126.94" y="502"/>
<use href="#mI" x="162.68" y="476.01"/>
<use href="#mI" x="135.82" y="496.32"/>
<use href="#mI" x="138.72" y="493.21"/>
<use href="#mI" x="132.71" y="496.9"/>
<use href="#mI" x="158.35" y="478.32"/>
<use href="#mI" x="150.99" y="483.69"/>
<use href="#mI" x="160.81" y="478.19"/>
<use href="#mI" x="154.03" y="482.16"/>
<use href="#mI" x="151.9" y="483.6"/>
<use href="#mI" x="140.92" y="491.62"/>
<use href="#mI" x="158.4" y="478.48"/>
<use href="#mI" x="142.34" y="490.36"/>
<use href="#mI" x="153.14" y="484.15"/>
<use href="#mI" x="142.24" y="490.03"/>
<use href="#mI" x="143.79" y="490.29"/>
<use href="#mI" x="161.36" y="475.14"/>
<use href="#mI" x="141.46" y="493.15"/>
<use href="#mI" x="153.69" y="481.97"/>
<use href="#mI" x="151.21" y="484.83"/>
<use href="#mI" x="150.07" y="485.8"/>
<use href="#mI" x="158.94" y="478.49"/>
<use href="#mI" x="150.89" y="484.36"/>
<use href="#mI" x="140.41" y="492.68"/>
<use href="#mI" x="143.83" y="488.75"/>
<use href="#mI" x="160.2" y="478.12"/>
<use href="#mI" x="157.36" y="479.07"/>
<use href="#mI" x="140.24" y="491.91"/>
<use href="#mI" x="153.26" y="482.66"/>
<use href="#mI" x="132.98" y="496.78"/>
<use href="#mI" x="137.41" y="493.03"/>
<use href="#mI" x="165.1" y="470.89"/>
<use href="#mI" x="168.2" y="469.15"/>
<use href="#mI" x="171.38" y="464.51"/>
<use href="#mI" x="164.2" y="472.15"/>
<use href="#mI" x="75.9" y="541.6"/>
<use href="#mI" x="166.5" y="470.5"/>
<use href="#mI" x="174.9" y="461.1"/>
<use href="#mI" x="178.7" y="466.4"/>
<use href="#mI" x="184.8" y="458.1"/>
</g>
<g class="series-D1">
<use href="#mD1" x="101.63" y="521.86"/>
<use href="#mD1" x="122.83" y="505.23"/>
<use href="#mD1" x="113.97" y="513.63"/>
<use href="#mD1" x="100.66" y="523.47"/>
<use href="#mD1" x="112.63" y="514.35"/>
<use href="#mD1" x="101.22" y="525.67"/>
<use href="#mD1" x="107.46" y="519.47"/>
<use href="#mD1" x="120.53" y="508.69"/>
<use href="#mD1" x="141.95" y="491.21"/>
<use href="#mD1" x="132.96" y="498.25"/>
<use href="#mD1" x="146.25" y="487.67"/>
<use href="#mD1" x="154.98" y="481.25"/>
<use href="#mD1" x="156.03" y="479.22"/>
<use href="#mD1" x="139.41" y="493.48"/>
<use href="#mD1" x="136.91" y="495.16"/>
<use href="#mD1" x="149.17" y="485.67"/>
<use href="#mD1" x="161.45" y="476.02"/>
<use href="#mD1" x="149.96" y="485.41"/>
<use href="#mD1" x="161.67" y="476.72"/>
<use href="#mD1" x="152.13" y="483.82"/>
<use href="#mD1" x="143.33" y="490.22"/>
<use href="#mD1" x="162.22" y="475.66"/>
<use href="#mD1" x="132.22" y="498.85"/>
<use href="#mD1" x="160.58" y="476.57"/>
<use href="#mD1" x="132.66" y="496.99"/>
<use href="#mD1" x="151.84" y="483.92"/>
<use href="#mD1" x="135.67" y="494.24"/>
<use href="#mD1" x="152.48" y="484.03"/>
<use href="#mD1" x="155.56" y="481.43"/>
<use href="#mD1" x="139.58" y="493.85"/>
<use href="#mD1" x="136.41" y="495.7"/>
<use href="#mD1" x="153.38" y="483.23"/>
<use href="#mD1" x="138.23" y="495.08"/>
<use href="#mD1" x="138.87" y="493.61"/>
<use href="#mD1" x="171.28" y="469.07"/>
<use href="#mD1" x="164.57" y="473.62"/>
<use href="#mD1" x="71.7" y="544.7"/>
<use href="#mD1" x="205.1" y="441.8"/>
<use href="#mD1" x="222.3" y="428"/>
<use href="#mD1" x="226.1" y="425.8"/>
<use href="#mD1" x="243.5" y="411.7"/>
<use href="#mD1" x="255.7" y="403.1"/>
<use href="#mD1" x="256.2" y="401.8"/>
<use href="#mD1" x="284.1" y="379.8"/>
<use href="#mD1" x="300.5" y="367.7"/>
<use href="#mD1" x="338" y="338.5"/>
<use href="#mD1" x="338" y="337.3"/>
</g>
<g class="series-D2">
<use href="#mD2" x="114.85" y="505.31"/>
<use href="#mD2" x="124.45" y="495.15"/>
<use href="#mD2" x="90.74" y="527.05"/>
<use href="#mD2" x="119.31" y="500.57"/>
<use href="#mD2" x="127.42" y="493.24"/>
<use href="#mD2" x="91.25" y="527.42"/>
<use href="#mD2" x="100.65" y="518.48"/>
<use href="#mD2" x="99.74" y="518.29"/>
<use href="#mD2" x="133.8" y="488.57"/>
<use href="#mD2" x="117.37" y="503.81"/>
<use href="#mD2" x="97.94" y="520.28"/>
<use href="#mD2" x="103.45" y="516.4"/>
<use href="#mD2" x="130.51" y="490.55"/>
<use href="#mD2" x="129.42" y="491.78"/>
<use href="#mD2" x="98.4" y="519.5"/>
<use href="#mD2" x="124.12" y="496.17"/>
<use href="#mD2" x="83.86" y="533.57"/>
<use href="#mD2" x="91.99" y="525.13"/>
<use href="#mD2" x="94.31" y="522.65"/>
<use href="#mD2" x="92.69" y="523.77"/>
<use href="#mD2" x="93.6" y="524.09"/>
<use href="#mD2" x="113.88" y="506.17"/>
<use href="#mD2" x="93.38" y="522.76"/>
<use href="#mD2" x="124.23" y="495.39"/>
<use href="#mD2" x="86.77" y="530.22"/>
<use href="#mD2" x="120.7" y="500.71"/>
<use href="#mD2" x="100.91" y="516.62"/>
<use href="#mD2" x="109.36" y="511.26"/>
<use href="#mD2" x="107.81" y="511.42"/>
<use href="#mD2" x="93.1" y="523.95"/>
<use href="#mD2" x="91.35" y="526.38"/>
<use href="#mD2" x="83.26" y="534.06"/>
<use href="#mD2" x="110.04" y="510.91"/>
<use href="#mD2" x="124.99" y="494.91"/>
<use href="#mD2" x="118.88" y="501.6"/>
<use href="#mD2" x="87.35" y="529.94"/>
<use href="#mD2" x="107.95" y="510.97"/>
<use href="#mD2" x="111.78" y="509.49"/>
<use href="#mD2" x="94.88" y="522.81"/>
<use href="#mD2" x="96.19" y="521.17"/>
<use href="#mD2" x="88.28" y="528.85"/>
<use href="#mD2" x="83.93" y="532.94"/>
<use href="#mD2" x="109.85" y="509.56"/>
<use href="#mD2" x="127.38" y="492.4"/>
<use href="#mD2" x="89.2" y="527.9"/>
<use href="#mD2" x="97.94" y="520.58"/>
<use href="#mD2" x="89.68" y="526.39"/>
<use href="#mD2" x="90.28" y="526.08"/>
<use href="#mD2" x="92.27" y="524.25"/>
<use href="#mD2" x="102.39" y="516.13"/>
<use href="#mD2" x="109.21" y="510.74"/>
<use href="#mD2" x="122.56" y="497.84"/>
<use href="#mD2" x="141.01" y="481.17"/>
<use href="#mD2" x="153.93" y="469.34"/>
<use href="#mD2" x="154.8" y="469.21"/>
<use href="#mD2" x="157.27" y="466.29"/>
<use href="#mD2" x="143.88" y="478.09"/>
<use href="#mD2" x="83.5" y="534.4"/>
<use href="#mD2" x="157.5" y="466"/>
<use href="#mD2" x="162.8" y="460.5"/>
<use href="#mD2" x="171.5" y="454"/>
<use href="#mD2" x="174.9" y="450"/>
<use href="#mD2" x="182.2" y="444.3"/>
<use href="#mD2" x="191.2" y="435.6"/>
<use href="#mD2" x="204.9" y="422.9"/>
</g>
<g class="series-D3">
<use href="#mD3" x="111.07" y="507.7"/>
<use href="#mD3" x="109.54" y="508.62"/>
<use href="#mD3" x="133.6" y="479.77"/>
<use href="#mD3" x="116.3" y="500.71"/>
<use href="#mD3" x="129.63" y="487.41"/>
<use href="#mD3" x="96.74" y="518.92"/>
<use href="#mD3" x="111.79" y="506.44"/>
<use href="#mD3" x="95.64" y="520.01"/>
<use href="#mD3" x="132.36" y="483.21"/>
<use href="#mD3" x="117.14" y="501.85"/>
<use href="#mD3" x="132.37" y="482.24"/>
<use href="#mD3" x="107.06" y="510.23"/>
<use href="#mD3" x="89.78" y="527.37"/>
<use href="#mD3" x="104.12" y="513.52"/>
<use href="#mD3" x="86.85" y="528.63"/>
<use href="#mD3" x="114.18" y="502.93"/>
<use href="#mD3" x="93.42" y="521.82"/>
<use href="#mD3" x="111.17" y="506.11"/>
<use href="#mD3" x="99.23" y="517.86"/>
<use href="#mD3" x="109.26" y="508.83"/>
<use href="#mD3" x="83.19" y="534.41"/>
<use href="#mD3" x="95" y="520.37"/>
<use href="#mD3" x="98.25" y="518.5"/>
<use href="#mD3" x="123.26" y="494.36"/>
<use href="#mD3" x="128.17" y="488.21"/>
<use href="#mD3" x="102.56" y="514.28"/>
<use href="#mD3" x="88.94" y="529.49"/>
<use href="#mD3" x="121.66" y="496.56"/>
<use href="#mD3" x="101.12" y="514.64"/>
<use href="#mD3" x="127.44" y="488.84"/>
<use href="#mD3" x="121.41" y="494.89"/>
<use href="#mD3" x="107.92" y="508.87"/>
<use href="#mD3" x="131.19" y="486.12"/>
<use href="#mD3" x="83.38" y="532.85"/>
<use href="#mD3" x="109.5" y="508.68"/>
<use href="#mD3" x="104.98" y="511.16"/>
<use href="#mD3" x="114.27" y="504.01"/>
<use href="#mD3" x="106.8" y="510.14"/>
<use href="#mD3" x="102.97" y="513.52"/>
<use href="#mD3" x="100.01" y="515.57"/>
<use href="#mD3" x="108.76" y="508.96"/>
<use href="#mD3" x="99.23" y="518.38"/>
<use href="#mD3" x="114.13" y="505.77"/>
<use href="#mD3" x="100.37" y="515.69"/>
<use href="#mD3" x="132.99" y="482.79"/>
<use href="#mD3" x="130.5" y="485.43"/>
<use href="#mD3" x="111.43" y="505.87"/>
<use href="#mD3" x="121.72" y="493.49"/>
<use href="#mD3" x="109.29" y="507.89"/>
<use href="#mD3" x="102.95" y="514.51"/>
<use href="#mD3" x="101.95" y="515.21"/>
<use href="#mD3" x="110.71" y="508.03"/>
<use href="#mD3" x="141.13" y="473.23"/>
<use href="#mD3" x="148.77" y="467.43"/>
<use href="#mD3" x="141.22" y="471.6"/>
<use href="#mD3" x="140.08" y="474.02"/>
<use href="#mD3" x="137.93" y="477.91"/>
<use href="#mD3" x="147.37" y="468.27"/>
<use href="#mD3" x="173.04" y="444.91"/>
<use href="#mD3" x="176" y="443.54"/>
<use href="#mD3" x="153.97" y="462.84"/>
<use href="#mD3" x="83.1" y="534"/>
<use href="#mD3" x="146.8" y="469"/>
<use href="#mD3" x="161.9" y="455"/>
<use href="#mD3" x="174.2" y="445"/>
<use href="#mD3" x="183.3" y="438.4"/>
<use href="#mD3" x="184.2" y="433"/>
</g>
<g class="series-D4">
<use href="#mD4" x="108.76" y="508.04"/>
<use href="#mD4" x="114.86" y="500.82"/>
<use href="#mD4" x="134.09" y="478.18"/>
<use href="#mD4" x="103.86" y="511.33"/>
<use href="#mD4" x="118.73" y="497.76"/>
<use href="#mD4" x="125.7" y="488.46"/>
<use href="#mD4" x="92.01" y="521.96"/>
<use href="#mD4" x="95.86" y="517.86"/>
<use href="#mD4" x="133.95" y="477.82"/>
<use href="#mD4" x="89.05" y="527.21"/>
<use href="#mD4" x="88.08" y="527.34"/>
<use href="#mD4" x="109.84" y="505.99"/>
<use href="#mD4" x="124.47" y="491.17"/>
<use href="#mD4" x="122.22" y="494.15"/>
<use href="#mD4" x="100.94" y="514.99"/>
<use href="#mD4" x="87.97" y="527"/>
<use href="#mD4" x="100.1" y="514.96"/>
<use href="#mD4" x="85.6" y="529.5"/>
<use href="#mD4" x="131.82" y="481.08"/>
<use href="#mD4" x="96.29" y="519.72"/>
<use href="#mD4" x="126.54" y="489.44"/>
<use href="#mD4" x="124.69" y="491.47"/>
<use href="#mD4" x="131.34" y="480.75"/>
<use href="#mD4" x="94.44" y="520.27"/>
<use href="#mD4" x="93.53" y="521.86"/>
<use href="#mD4" x="107.67" y="508.08"/>
<use href="#mD4" x="91.18" y="523.61"/>
<use href="#mD4" x="132.87" y="480.74"/>
<use href="#mD4" x="87.87" y="526.48"/>
<use href="#mD4" x="103.55" y="512.41"/>
<use href="#mD4" x="125.21" y="490.44"/>
<use href="#mD4" x="92.21" y="522.75"/>
<use href="#mD4" x="83.92" y="530.67"/>
<use href="#mD4" x="90.38" y="523.99"/>
<use href="#mD4" x="96.49" y="518.05"/>
<use href="#mD4" x="105.85" y="509.39"/>
<use href="#mD4" x="90.19" y="524.96"/>
<use href="#mD4" x="102.26" y="513.35"/>
<use href="#mD4" x="131.62" y="481.33"/>
<use href="#mD4" x="106.4" y="510.8"/>
<use href="#mD4" x="96.38" y="518.23"/>
<use href="#mD4" x="101.52" y="514.81"/>
<use href="#mD4" x="93.55" y="520.78"/>
<use href="#mD4" x="108.74" y="507.12"/>
<use href="#mD4" x="122.1" y="493.78"/>
<use href="#mD4" x="111.77" y="505.39"/>
<use href="#mD4" x="87.17" y="529.47"/>
<use href="#mD4" x="98.95" y="515.74"/>
<use href="#mD4" x="111.3" y="505.64"/>
<use href="#mD4" x="98.15" y="517.35"/>
<use href="#mD4" x="94.61" y="521.1"/>
<use href="#mD4" x="96.25" y="518.63"/>
<use href="#mD4" x="147.44" y="465.06"/>
<use href="#mD4" x="137.83" y="474.36"/>
<use href="#mD4" x="145.32" y="466.89"/>
<use href="#mD4" x="141.44" y="470.12"/>
<use href="#mD4" x="139.69" y="472.27"/>
<use href="#mD4" x="75.9" y="541.4"/>
<use href="#mD4" x="138.4" y="473.6"/>
<use href="#mD4" x="143.7" y="469.4"/>
<use href="#mD4" x="152.5" y="459.6"/>
<use href="#mD4" x="161.3" y="452"/>
<use href="#mD4" x="165.8" y="446.3"/>
<use href="#mD4" x="170.4" y="442.1"/>
<use href="#mD4" x="190.8" y="421.2"/>
<use href="#mD4" x="242.7" y="370.3"/>
</g>
<g class="ln over">
<polyline points="75.9,541.6 94.9,529.5 102.4,522.6 111.6,515.1 120.7,507.5 130.4,499.5 138,494.2 149.4,485.8 160,477.3 166.5,470.5 174.9,461.1 178.7,466.4 184.8,458.1"/>
<polyline points="71.7,544.7 94.9,529.5 102.4,522.6 111.6,515.1 120.7,507.5 130.4,499.5 138,494.2 149.4,485.8 161.5,476 205.1,441.8 222.3,428 226.1,425.8 243.5,411.7 255.7,403.1 256.2,401.8 284.1,379.8 300.5,367.7 338,338.5 338,337.3"/>
<polyline points="83.5,534.4 95.1,522.2 113.7,506.7 128,492 140,482.4 157.5,466 162.8,460.5 171.5,454 174.9,450 182.2,444.3 191.2,435.6 204.9,422.9"/>
<polyline points="83.1,534 94.5,521.5 112.7,505.6 126.6,490.4 134.9,479.4 146.8,469 161.9,455 174.2,445 183.3,438.4 184.2,433"/>
<polyline points="75.9,541.4 82.3,533.2 93.7,520.7 111.9,504.8 125.8,489.6 134.2,478.3 138.4,473.6 143.7,469.4 152.5,459.6 161.3,452 165.8,446.3 170.4,442.1 190.8,421.2 242.7,370.3"/>
</g>
</g>
</g>
<g id="panel-d">
<path class="ax" d="M459.6,319.2V549.8H767.4M459.6,549.8v5.22M485.25,549.8v2.93M510.9,549.8v5.22M536.55,549.8v2.93M562.2,549.8v5.22M587.85,549.8v2.93M613.5,549.8v5.22M639.15,549.8v2.93M664.8,549.8v5.22M690.45,549.8v2.93M716.1,549.8v5.22M741.75,549.8v2.93M767.4,549.8v5.22M459.6,549.8h-5.22M459.6,530.58h-2.93M459.6,511.37h-5.22M459.6,492.15h-2.93M459.6,472.93h-5.22M459.6,453.72h-2.93M459.6,434.5h-5.22M459.6,415.28h-2.93M459.6,396.07h-5.22M459.6,376.85h-2.93M459.6,357.63h-5.22M459.6,338.42h-2.93M459.6,319.2h-5.22"/>
<g font-size="14.63">
<g text-anchor="middle">
<text x="459.6" y="568.4">0</text>
<text x="510.9" y="568.4">50</text>
<text x="562.2" y="568.4">100</text>
<text x="613.5" y="568.4">150</text>
<text x="664.8" y="568.4">200</text>
<text x="716.1" y="568.4">250</text>
<text x="767.4" y="568.4">300</text>
</g><g text-anchor="end">
<text x="451.87" y="554.61">0</text>
<text x="451.87" y="516.17">50</text>
<text x="451.87" y="477.74">100</text>
<text x="451.87" y="439.31">150</text>
<text x="451.87" y="400.87">200</text>
<text x="451.87" y="362.44">250</text>
<text x="451.87" y="324.01">300</text>
</g></g>
<text x="574.7" y="584.2" font-size="15.67" xml:space="preserve">MMS of<tspan dx="6.79">F</tspan><tspan font-size="12.54" dy="6.48">43</tspan></text>
<text transform="translate(418.3,469) rotate(-90)" font-size="15.67" xml:space="preserve">MMS of<tspan dx="6.79">F</tspan><tspan font-size="12.54" dy="6.17">41</tspan></text>
<text x="591.2" y="613.9" font-size="17.5" text-anchor="middle">(<tspan font-weight="bold" font-size="16">d</tspan>)</text>
<use href="#mI" x="691.1" y="424"/>
<text x="707.6" y="428.5" font-size="14.63">I</text>
<use href="#mD1" x="691.1" y="445"/>
<text x="707.6" y="449.5" font-size="14.63">D1</text>
<use href="#mD2" x="691.1" y="466.4"/>
<text x="707.6" y="470" font-size="14.63">D2</text>
<use href="#mD3" x="691.1" y="486.6"/>
<text x="707.6" y="490.4" font-size="14.63">D3</text>
<use href="#mD4" x="691.1" y="507.6"/>
<text x="707.6" y="511.5" font-size="14.63">D4</text>
<clipPath id="clip-d"><rect x="459.6" y="318.8" width="315.8" height="231"/></clipPath>
<g clip-path="url(#clip-d)">
<g class="ln">
<polyline points="471,539.7 486.6,527.2 498,518.9 507.1,510.5 517.7,502.1 525,494.3 542.7,481.9 557.8,469.5 562.5,464.8 565.6,461.8 571.4,455 576.7,457.2 580.8,449.6 582.9,452.8"/>
<polyline points="466.2,544.5 486.6,527.2 498,518.9 507.1,510.5 517.7,502.1 525,494.3 542.7,481.9 557.8,469.5 564,464.5 600.9,431.5 622.9,414.6 639.9,399.9 651.5,390.3 654.6,389.2 682.9,365.2 697.1,351.8 735.6,322.2 739.4,320.1"/>
<polyline points="478.5,529.3 487.4,520.5 500.6,505.9 509.7,495.7 518,486 525.3,474.9 546.6,454.1 556.3,440.8 572.3,423.5 582.3,413.9 588.8,404.1 605.6,385.2"/>
<polyline points="478,528.8 486.7,519.8 499.6,504.8 508.3,494.3 516.2,484.3 526.4,468.8 530.6,459.5 538.2,452 543,445.7 546.6,439 559,426.6 561.6,422.7 568.9,415.4 583,402.2 585,393.7"/>
<polyline points="471,539.5 477,528.2 485.7,519 498.6,504 507.3,493.5 515.2,483.5 525.4,468 527.6,464.8 534.2,454.5 551.5,437.8 561.6,428 566.8,422 569.4,417 590.6,394.2 645.7,325.2"/>
</g>
<g class="series-I">
<use href="#mI" x="501.57" y="516.07"/>
<use href="#mI" x="507.91" y="508.53"/>
<use href="#mI" x="488.23" y="526.35"/>
<use href="#mI" x="491.39" y="524.34"/>
<use href="#mI" x="487.63" y="527.32"/>
<use href="#mI" x="491.49" y="523.01"/>
<use href="#mI" x="503.47" y="514.7"/>
<use href="#mI" x="502.73" y="514.55"/>
<use href="#mI" x="506.26" y="510.69"/>
<use href="#mI" x="488.42" y="525.31"/>
<use href="#mI" x="488.1" y="526.51"/>
<use href="#mI" x="505.49" y="513.98"/>
<use href="#mI" x="523.03" y="497.47"/>
<use href="#mI" x="520.35" y="498.09"/>
<use href="#mI" x="535.34" y="488.84"/>
<use href="#mI" x="539.71" y="483.97"/>
<use href="#mI" x="549.73" y="475.43"/>
<use href="#mI" x="540.7" y="484.25"/>
<use href="#mI" x="537.95" y="484.26"/>
<use href="#mI" x="529.22" y="491.11"/>
<use href="#mI" x="548.33" y="476.8"/>
<use href="#mI" x="543.76" y="481.41"/>
<use href="#mI" x="542.95" y="481.98"/>
<use href="#mI" x="536.51" y="486.31"/>
<use href="#mI" x="535.78" y="488.08"/>
<use href="#mI" x="547.15" y="478.87"/>
<use href="#mI" x="540.86" y="483.02"/>
<use href="#mI" x="536.27" y="487.77"/>
<use href="#mI" x="529.25" y="490.74"/>
<use href="#mI" x="551.07" y="473.93"/>
<use href="#mI" x="530.23" y="489.45"/>
<use href="#mI" x="540.32" y="482.13"/>
<use href="#mI" x="528.66" y="492.39"/>
<use href="#mI" x="532.2" y="489.77"/>
<use href="#mI" x="531.34" y="488.9"/>
<use href="#mI" x="528.46" y="492.5"/>
<use href="#mI" x="537.08" y="486.18"/>
<use href="#mI" x="526.22" y="493.98"/>
<use href="#mI" x="527.47" y="490.15"/>
<use href="#mI" x="544.07" y="481.75"/>
<use href="#mI" x="539.57" y="485.2"/>
<use href="#mI" x="525.93" y="493.55"/>
<use href="#mI" x="563.56" y="463.94"/>
<use href="#mI" x="560.02" y="467.63"/>
<use href="#mI" x="471" y="539.7"/>
<use href="#mI" x="562.5" y="464.8"/>
<use href="#mI" x="565.6" y="461.8"/>
<use href="#mI" x="571.4" y="455"/>
<use href="#mI" x="576.7" y="457.2"/>
<use href="#mI" x="580.8" y="449.6"/>
<use href="#mI" x="582.9" y="452.8"/>
</g>
<g class="series-D1">
<use href="#mD1" x="487.79" y="524.92"/>
<use href="#mD1" x="494.11" y="523"/>
<use href="#mD1" x="506.73" y="510.88"/>
<use href="#mD1" x="505.46" y="511.23"/>
<use href="#mD1" x="494.9" y="522.82"/>
<use href="#mD1" x="493.92" y="522.3"/>
<use href="#mD1" x="495.68" y="520.21"/>
<use href="#mD1" x="487.28" y="525.76"/>
<use href="#mD1" x="505.54" y="509.97"/>
<use href="#mD1" x="508.12" y="509.24"/>
<use href="#mD1" x="518.78" y="501.55"/>
<use href="#mD1" x="518.39" y="500.92"/>
<use href="#mD1" x="539.85" y="483.99"/>
<use href="#mD1" x="526" y="493.57"/>
<use href="#mD1" x="549.85" y="476.87"/>
<use href="#mD1" x="553.35" y="472.43"/>
<use href="#mD1" x="534.02" y="486.93"/>
<use href="#mD1" x="538.6" y="485.3"/>
<use href="#mD1" x="547.5" y="476.83"/>
<use href="#mD1" x="530.27" y="491.33"/>
<use href="#mD1" x="543.39" y="481.6"/>
<use href="#mD1" x="527.55" y="493.14"/>
<use href="#mD1" x="557.93" y="469.24"/>
<use href="#mD1" x="557.86" y="469.76"/>
<use href="#mD1" x="552.49" y="474.9"/>
<use href="#mD1" x="544.9" y="480.93"/>
<use href="#mD1" x="555.7" y="470.76"/>
<use href="#mD1" x="534.28" y="488.78"/>
<use href="#mD1" x="526.21" y="494.78"/>
<use href="#mD1" x="540.42" y="484.56"/>
<use href="#mD1" x="536.8" y="485.29"/>
<use href="#mD1" x="542.01" y="481.73"/>
<use href="#mD1" x="529.23" y="493.19"/>
<use href="#mD1" x="543.88" y="482.62"/>
<use href="#mD1" x="533.89" y="489"/>
<use href="#mD1" x="532.64" y="488.55"/>
<use href="#mD1" x="532.25" y="488.89"/>
<use href="#mD1" x="561.97" y="465.89"/>
<use href="#mD1" x="561.65" y="467"/>
<use href="#mD1" x="564.31" y="463.38"/>
<use href="#mD1" x="466.2" y="544.5"/>
<use href="#mD1" x="600.9" y="431.5"/>
<use href="#mD1" x="622.9" y="414.6"/>
<use href="#mD1" x="639.9" y="399.9"/>
<use href="#mD1" x="651.5" y="390.3"/>
<use href="#mD1" x="654.6" y="389.2"/>
<use href="#mD1" x="682.9" y="365.2"/>
<use href="#mD1" x="697.1" y="351.8"/>
<use href="#mD1" x="735.6" y="322.2"/>
<use href="#mD1" x="739.4" y="320.1"/>
</g>
<g class="series-D2">
<use href="#mD2" x="516.98" y="489.75"/>
<use href="#mD2" x="514.88" y="491.19"/>
<use href="#mD2" x="498.43" y="510.41"/>
<use href="#mD2" x="506.41" y="499.07"/>
<use href="#mD2" x="517.22" y="487.44"/>
<use href="#mD2" x="497.52" y="510.05"/>
<use href="#mD2" x="488.84" y="519.69"/>
<use href="#mD2" x="500.05" y="506.41"/>
<use href="#mD2" x="520.76" y="479.83"/>
<use href="#mD2" x="521.96" y="481.5"/>
<use href="#mD2" x="495.46" y="510.63"/>
<use href="#mD2" x="519.67" y="484.38"/>
<use href="#mD2" x="515.66" y="489.16"/>
<use href="#mD2" x="480.49" y="526.98"/>
<use href="#mD2" x="505.74" y="499.9"/>
<use href="#mD2" x="524.15" y="475.95"/>
<use href="#mD2" x="487.27" y="520.2"/>
<use href="#mD2" x="507.35" y="498.51"/>
<use href="#mD2" x="484.05" y="523.48"/>
<use href="#mD2" x="505.77" y="500.93"/>
<use href="#mD2" x="497.9" y="510.59"/>
<use href="#mD2" x="504.86" y="499.65"/>
<use href="#mD2" x="525.87" y="474.79"/>
<use href="#mD2" x="485.08" y="521.9"/>
<use href="#mD2" x="518.39" y="485.91"/>
<use href="#mD2" x="518.82" y="483.86"/>
<use href="#mD2" x="502.51" y="505.38"/>
<use href="#mD2" x="498.4" y="508.13"/>
<use href="#mD2" x="482.11" y="526"/>
<use href="#mD2" x="522.64" y="478.67"/>
<use href="#mD2" x="486.58" y="521.58"/>
<use href="#mD2" x="506.75" y="499.07"/>
<use href="#mD2" x="478.45" y="528.71"/>
<use href="#mD2" x="478.27" y="528.8"/>
<use href="#mD2" x="481.15" y="527.89"/>
<use href="#mD2" x="491.92" y="516.21"/>
<use href="#mD2" x="490.98" y="515.64"/>
<use href="#mD2" x="525.99" y="474.34"/>
<use href="#mD2" x="506.37" y="498.19"/>
<use href="#mD2" x="516.41" y="486.65"/>
<use href="#mD2" x="496.31" y="511.67"/>
<use href="#mD2" x="522.32" y="479.98"/>
<use href="#mD2" x="493.61" y="512.59"/>
<use href="#mD2" x="503.42" y="501.96"/>
<use href="#mD2" x="505.63" y="500.25"/>
<use href="#mD2" x="494.61" y="513.71"/>
<use href="#mD2" x="502.11" y="504.34"/>
<use href="#mD2" x="489.98" y="517.79"/>
<use href="#mD2" x="479.19" y="528.4"/>
<use href="#mD2" x="500.21" y="505.71"/>
<use href="#mD2" x="487.2" y="521.27"/>
<use href="#mD2" x="493.69" y="512.6"/>
<use href="#mD2" x="546.26" y="455.07"/>
<use href="#mD2" x="539.89" y="461.06"/>
<use href="#mD2" x="539.98" y="460.88"/>
<use href="#mD2" x="542.76" y="457.68"/>
<use href="#mD2" x="478.5" y="529.3"/>
<use href="#mD2" x="546.6" y="454.1"/>
<use href="#mD2" x="556.3" y="440.8"/>
<use href="#mD2" x="572.3" y="423.5"/>
<use href="#mD2" x="582.3" y="413.9"/>
<use href="#mD2" x="588.8" y="404.1"/>
<use href="#mD2" x="605.6" y="385.2"/>
</g>
<g class="series-D3">
<use href="#mD3" x="480.45" y="525.44"/>
<use href="#mD3" x="491.79" y="514.02"/>
<use href="#mD3" x="486.15" y="521.35"/>
<use href="#mD3" x="488.68" y="517.49"/>
<use href="#mD3" x="508.56" y="493.74"/>
<use href="#mD3" x="487.72" y="516.74"/>
<use href="#mD3" x="508.75" y="495.19"/>
<use href="#mD3" x="521.65" y="476.14"/>
<use href="#mD3" x="486.53" y="518.66"/>
<use href="#mD3" x="510.26" y="491.94"/>
<use href="#mD3" x="494.33" y="509.93"/>
<use href="#mD3" x="498.09" y="505.79"/>
<use href="#mD3" x="480.76" y="525.94"/>
<use href="#mD3" x="509.06" y="493.7"/>
<use href="#mD3" x="507.87" y="495.55"/>
<use href="#mD3" x="479.19" y="527.7"/>
<use href="#mD3" x="527.95" y="466.96"/>
<use href="#mD3" x="514.11" y="487.09"/>
<use href="#mD3" x="486.28" y="521.63"/>
<use href="#mD3" x="482.67" y="523.49"/>
<use href="#mD3" x="504.46" y="497.91"/>
<use href="#mD3" x="510.55" y="490.69"/>
<use href="#mD3" x="515.02" y="486.82"/>
<use href="#mD3" x="516.23" y="483.76"/>
<use href="#mD3" x="517.11" y="483.54"/>
<use href="#mD3" x="490.88" y="513.5"/>
<use href="#mD3" x="485.09" y="522.02"/>
<use href="#mD3" x="510.83" y="490.54"/>
<use href="#mD3" x="527.58" y="467.55"/>
<use href="#mD3" x="482.73" y="524.21"/>
<use href="#mD3" x="480.45" y="525.68"/>
<use href="#mD3" x="487.48" y="519.1"/>
<use href="#mD3" x="485.78" y="522.08"/>
<use href="#mD3" x="524.13" y="472.48"/>
<use href="#mD3" x="516.96" y="485.16"/>
<use href="#mD3" x="502.68" y="500.29"/>
<use href="#mD3" x="517.65" y="481.67"/>
<use href="#mD3" x="523.73" y="474.4"/>
<use href="#mD3" x="481" y="524.87"/>
<use href="#mD3" x="521.73" y="477.02"/>
<use href="#mD3" x="499.42" y="505.28"/>
<use href="#mD3" x="509.41" y="493.48"/>
<use href="#mD3" x="490.82" y="514.87"/>
<use href="#mD3" x="488.2" y="517.13"/>
<use href="#mD3" x="493.23" y="512.55"/>
<use href="#mD3" x="506.96" y="497.63"/>
<use href="#mD3" x="521.38" y="477.43"/>
<use href="#mD3" x="519.06" y="480.43"/>
<use href="#mD3" x="502.48" y="501.31"/>
<use href="#mD3" x="511.74" y="489.01"/>
<use href="#mD3" x="507.19" y="495.6"/>
<use href="#mD3" x="521.69" y="476.13"/>
<use href="#mD3" x="545.6" y="442.61"/>
<use href="#mD3" x="547.87" y="437.84"/>
<use href="#mD3" x="530.29" y="460.3"/>
<use href="#mD3" x="478" y="528.8"/>
<use href="#mD3" x="530.6" y="459.5"/>
<use href="#mD3" x="538.2" y="452"/>
<use href="#mD3" x="543" y="445.7"/>
<use href="#mD3" x="546.6" y="439"/>
<use href="#mD3" x="559" y="426.6"/>
<use href="#mD3" x="561.6" y="422.7"/>
<use href="#mD3" x="568.9" y="415.4"/>
<use href="#mD3" x="583" y="402.2"/>
<use href="#mD3" x="585" y="393.7"/>
</g>
<g class="series-D4">
<use href="#mD4" x="523" y="473.19"/>
<use href="#mD4" x="482.2" y="523.94"/>
<use href="#mD4" x="480.99" y="524.72"/>
<use href="#mD4" x="513.72" y="485.23"/>
<use href="#mD4" x="478.72" y="527.66"/>
<use href="#mD4" x="511.98" y="488.41"/>
<use href="#mD4" x="488.39" y="515.79"/>
<use href="#mD4" x="478.38" y="527.11"/>
<use href="#mD4" x="521.3" y="475.34"/>
<use href="#mD4" x="483.54" y="521.21"/>
<use href="#mD4" x="511.7" y="489.37"/>
<use href="#mD4" x="502.35" y="500.27"/>
<use href="#mD4" x="502.17" y="499.81"/>
<use href="#mD4" x="488.65" y="516.32"/>
<use href="#mD4" x="513.53" y="485.98"/>
<use href="#mD4" x="490.35" y="513.81"/>
<use href="#mD4" x="501.97" y="499.84"/>
<use href="#mD4" x="495.8" y="508.1"/>
<use href="#mD4" x="509.12" y="490.28"/>
<use href="#mD4" x="512.4" y="488.01"/>
<use href="#mD4" x="512.58" y="486.78"/>
<use href="#mD4" x="498.39" y="504.63"/>
<use href="#mD4" x="496.06" y="506.91"/>
<use href="#mD4" x="527.52" y="465.82"/>
<use href="#mD4" x="523.3" y="472.11"/>
<use href="#mD4" x="495.87" y="507.65"/>
<use href="#mD4" x="483.23" y="521.06"/>
<use href="#mD4" x="523.07" y="472.84"/>
<use href="#mD4" x="492.88" y="509.57"/>
<use href="#mD4" x="492.8" y="510.76"/>
<use href="#mD4" x="514.63" y="483.98"/>
<use href="#mD4" x="506.94" y="494.31"/>
<use href="#mD4" x="508.46" y="491.35"/>
<use href="#mD4" x="512.19" y="487.3"/>
<use href="#mD4" x="507.47" y="492.53"/>
<use href="#mD4" x="508.14" y="491.92"/>
<use href="#mD4" x="507.54" y="494.57"/>
<use href="#mD4" x="500.57" y="500.69"/>
<use href="#mD4" x="500.87" y="501.68"/>
<use href="#mD4" x="522.84" y="470.94"/>
<use href="#mD4" x="503.5" y="497.77"/>
<use href="#mD4" x="485.83" y="518.41"/>
<use href="#mD4" x="509.46" y="490.04"/>
<use href="#mD4" x="520.8" y="475.79"/>
<use href="#mD4" x="518.7" y="478.01"/>
<use href="#mD4" x="484.69" y="520.38"/>
<use href="#mD4" x="495.01" y="507.6"/>
<use href="#mD4" x="500.02" y="503.1"/>
<use href="#mD4" x="526.69" y="465.19"/>
<use href="#mD4" x="501.14" y="500.11"/>
<use href="#mD4" x="484.32" y="519.68"/>
<use href="#mD4" x="503.07" y="499.3"/>
<use href="#mD4" x="534.09" y="454.67"/>
<use href="#mD4" x="531.09" y="459.06"/>
<use href="#mD4" x="530.68" y="459.4"/>
<use href="#mD4" x="471" y="539.5"/>
<use href="#mD4" x="527.6" y="464.8"/>
<use href="#mD4" x="534.2" y="454.5"/>
<use href="#mD4" x="551.5" y="437.8"/>
<use href="#mD4" x="561.6" y="428"/>
<use href="#mD4" x="566.8" y="422"/>
<use href="#mD4" x="569.4" y="417"/>
<use href="#mD4" x="590.6" y="394.2"/>
<use href="#mD4" x="645.7" y="325.2"/>
</g>
<g class="ln over">
<polyline points="471,539.7 486.6,527.2 498,518.9 507.1,510.5 517.7,502.1 525,494.3 542.7,481.9 557.8,469.5 562.5,464.8 565.6,461.8 571.4,455 576.7,457.2 580.8,449.6 582.9,452.8"/>
<polyline points="466.2,544.5 486.6,527.2 498,518.9 507.1,510.5 517.7,502.1 525,494.3 542.7,481.9 557.8,469.5 564,464.5 600.9,431.5 622.9,414.6 639.9,399.9 651.5,390.3 654.6,389.2 682.9,365.2 697.1,351.8 735.6,322.2 739.4,320.1"/>
<polyline points="478.5,529.3 487.4,520.5 500.6,505.9 509.7,495.7 518,486 525.3,474.9 546.6,454.1 556.3,440.8 572.3,423.5 582.3,413.9 588.8,404.1 605.6,385.2"/>
<polyline points="478,528.8 486.7,519.8 499.6,504.8 508.3,494.3 516.2,484.3 526.4,468.8 530.6,459.5 538.2,452 543,445.7 546.6,439 559,426.6 561.6,422.7 568.9,415.4 583,402.2 585,393.7"/>
<polyline points="471,539.5 477,528.2 485.7,519 498.6,504 507.3,493.5 515.2,483.5 525.4,468 527.6,464.8 534.2,454.5 551.5,437.8 561.6,428 566.8,422 569.4,417 590.6,394.2 645.7,325.2"/>
</g>
</g>
</g>
<g id="panel-e">
<path class="ax" d="M267.6,630.4V852.2H565.7M267.6,852.2v5M292.44,852.2v2.8M317.28,852.2v5M342.12,852.2v2.8M366.97,852.2v5M391.81,852.2v2.8M416.65,852.2v5M441.49,852.2v2.8M466.33,852.2v5M491.18,852.2v2.8M516.02,852.2v5M540.86,852.2v2.8M565.7,852.2v5M267.6,852.2h-5M267.6,833.72h-2.8M267.6,815.23h-5M267.6,796.75h-2.8M267.6,778.27h-5M267.6,759.78h-2.8M267.6,741.3h-5M267.6,722.82h-2.8M267.6,704.33h-5M267.6,685.85h-2.8M267.6,667.37h-5M267.6,648.88h-2.8M267.6,630.4h-5"/>
<g font-size="14">
<g text-anchor="middle">
<text x="267.6" y="870.2">0</text>
<text x="317.28" y="870.2">50</text>
<text x="366.97" y="870.2">100</text>
<text x="416.65" y="870.2">150</text>
<text x="466.33" y="870.2">200</text>
<text x="516.02" y="870.2">250</text>
<text x="565.7" y="870.2">300</text>
</g><g text-anchor="end">
<text x="260.2" y="856.8">0</text>
<text x="260.2" y="819.83">50</text>
<text x="260.2" y="782.87">100</text>
<text x="260.2" y="745.9">150</text>
<text x="260.2" y="708.93">200</text>
<text x="260.2" y="671.97">250</text>
<text x="260.2" y="635">300</text>
</g></g>
<text x="382.2" y="884.2" font-size="15" xml:space="preserve">MMS of<tspan dx="6.5">F</tspan><tspan font-size="12" dy="6">53</tspan></text>
<text transform="translate(229.2,772) rotate(-90)" font-size="15" xml:space="preserve">MMS of<tspan dx="6.5">F</tspan><tspan font-size="12" dy="5.9">51</tspan></text>
<text x="396.1" y="913.5" font-size="17.5" text-anchor="middle">(<tspan font-weight="bold" font-size="16">e</tspan>)</text>
<use href="#mI" x="481.1" y="731.8"/>
<text x="497.3" y="736.3" font-size="14">I</text>
<use href="#mD1" x="481.1" y="752.1"/>
<text x="497.3" y="756.4" font-size="14">D1</text>
<use href="#mD2" x="481.1" y="772.9"/>
<text x="497.3" y="776.5" font-size="14">D2</text>
<use href="#mD3" x="481.1" y="792.3"/>
<text x="497.3" y="796.2" font-size="14">D3</text>
<use href="#mD4" x="481.1" y="812.8"/>
<text x="497.3" y="816.6" font-size="14">D4</text>
<clipPath id="clip-e"><rect x="267.6" y="630" width="306.1" height="222.2"/></clipPath>
<g clip-path="url(#clip-e)">
<g class="ln">
<polyline points="276,844.3 293.3,831.5 326.8,804.5 357.1,780.5 370.8,769.7"/>
<polyline points="273.7,847.3 293.3,830.5 326.8,802.8 357.1,777.8 386.2,752.8 402.9,740.4 403.4,738.6 416.6,726.7 428.2,718.9 430.5,715.1 452.8,696.8 462.4,688 497.1,660.6 498.4,662.2"/>
<polyline points="283.5,839 330,797.5 373.5,756.3 389.5,743.7"/>
<polyline points="282.5,838.5 328,794.5 360,762.5 370,751.3"/>
<polyline points="276,844.1 281.5,838.6 328,793 363.2,758 375.1,745 423.7,696.3"/>
</g>
<g class="series-I">
<use href="#mI" x="307.74" y="821.19"/>
<use href="#mI" x="299.44" y="825.07"/>
<use href="#mI" x="302.96" y="823.72"/>
<use href="#mI" x="317.3" y="812.23"/>
<use href="#mI" x="311.14" y="817.55"/>
<use href="#mI" x="306.21" y="821.2"/>
<use href="#mI" x="323.5" y="807.49"/>
<use href="#mI" x="316.35" y="812.92"/>
<use href="#mI" x="328.95" y="802.07"/>
<use href="#mI" x="318.88" y="811.04"/>
<use href="#mI" x="321.56" y="808.98"/>
<use href="#mI" x="313.99" y="814.64"/>
<use href="#mI" x="297.44" y="827.42"/>
<use href="#mI" x="312.49" y="815.63"/>
<use href="#mI" x="312.99" y="815.45"/>
<use href="#mI" x="312.39" y="815.36"/>
<use href="#mI" x="319.1" y="810"/>
<use href="#mI" x="298.1" y="826.65"/>
<use href="#mI" x="322.41" y="807.72"/>
<use href="#mI" x="305" y="823.23"/>
<use href="#mI" x="300.98" y="826.41"/>
<use href="#mI" x="316.25" y="813.86"/>
<use href="#mI" x="320.32" y="809.63"/>
<use href="#mI" x="319.3" y="810.58"/>
<use href="#mI" x="360.41" y="776.65"/>
<use href="#mI" x="334.02" y="799.41"/>
<use href="#mI" x="330.63" y="801.77"/>
<use href="#mI" x="337.7" y="796.35"/>
<use href="#mI" x="355.14" y="781.2"/>
<use href="#mI" x="343.06" y="792.21"/>
<use href="#mI" x="356.36" y="779.75"/>
<use href="#mI" x="337.77" y="796.13"/>
<use href="#mI" x="345.67" y="789.9"/>
<use href="#mI" x="344.21" y="789.93"/>
<use href="#mI" x="354.43" y="784.77"/>
<use href="#mI" x="347.15" y="788.99"/>
<use href="#mI" x="345.38" y="789.9"/>
<use href="#mI" x="339.56" y="795.81"/>
<use href="#mI" x="338.5" y="793.52"/>
<use href="#mI" x="346.51" y="788.47"/>
<use href="#mI" x="343.49" y="791.19"/>
<use href="#mI" x="342.9" y="791.45"/>
<use href="#mI" x="367.39" y="773.14"/>
<use href="#mI" x="361.89" y="776.7"/>
<use href="#mI" x="276" y="844.3"/>
<use href="#mI" x="370.8" y="769.7"/>
</g>
<g class="series-D1">
<use href="#mD1" x="322.76" y="805.6"/>
<use href="#mD1" x="319.19" y="809.47"/>
<use href="#mD1" x="325.26" y="805.78"/>
<use href="#mD1" x="303.99" y="821.98"/>
<use href="#mD1" x="323.31" y="805.83"/>
<use href="#mD1" x="318.7" y="810.94"/>
<use href="#mD1" x="319.72" y="808.92"/>
<use href="#mD1" x="320.77" y="808.79"/>
<use href="#mD1" x="306.75" y="820.32"/>
<use href="#mD1" x="307.28" y="818.6"/>
<use href="#mD1" x="326.71" y="803.73"/>
<use href="#mD1" x="302.39" y="821.48"/>
<use href="#mD1" x="310.34" y="816.89"/>
<use href="#mD1" x="318.24" y="810.8"/>
<use href="#mD1" x="299.4" y="825.13"/>
<use href="#mD1" x="311.09" y="815.41"/>
<use href="#mD1" x="325.06" y="805.91"/>
<use href="#mD1" x="330.37" y="799.96"/>
<use href="#mD1" x="306.17" y="820.43"/>
<use href="#mD1" x="313.56" y="813.76"/>
<use href="#mD1" x="345.04" y="787.28"/>
<use href="#mD1" x="346.48" y="787.03"/>
<use href="#mD1" x="338.98" y="792.4"/>
<use href="#mD1" x="336.94" y="794.43"/>
<use href="#mD1" x="348.47" y="785.18"/>
<use href="#mD1" x="358.23" y="776.51"/>
<use href="#mD1" x="339.59" y="792.12"/>
<use href="#mD1" x="352.7" y="783.16"/>
<use href="#mD1" x="339.6" y="793.25"/>
<use href="#mD1" x="331.94" y="797.3"/>
<use href="#mD1" x="347.73" y="785.47"/>
<use href="#mD1" x="346.06" y="788.17"/>
<use href="#mD1" x="333.5" y="796.51"/>
<use href="#mD1" x="341.07" y="790.44"/>
<use href="#mD1" x="335.56" y="795.68"/>
<use href="#mD1" x="355.72" y="778.6"/>
<use href="#mD1" x="273.7" y="847.3"/>
<use href="#mD1" x="386.2" y="752.8"/>
<use href="#mD1" x="402.9" y="740.4"/>
<use href="#mD1" x="403.4" y="738.6"/>
<use href="#mD1" x="416.6" y="726.7"/>
<use href="#mD1" x="428.2" y="718.9"/>
<use href="#mD1" x="430.5" y="715.1"/>
<use href="#mD1" x="452.8" y="696.8"/>
<use href="#mD1" x="462.4" y="688"/>
<use href="#mD1" x="497.1" y="660.6"/>
<use href="#mD1" x="498.4" y="662.2"/>
</g>
<g class="series-D2">
<use href="#mD2" x="291.25" y="833.67"/>
<use href="#mD2" x="288.35" y="834.16"/>
<use href="#mD2" x="288.69" y="834.21"/>
<use href="#mD2" x="307.94" y="816.75"/>
<use href="#mD2" x="292.43" y="831.08"/>
<use href="#mD2" x="289.47" y="835.23"/>
<use href="#mD2" x="306.9" y="818.09"/>
<use href="#mD2" x="326.52" y="799.95"/>
<use href="#mD2" x="309.89" y="814.83"/>
<use href="#mD2" x="318.59" y="808.35"/>
<use href="#mD2" x="284.48" y="838.28"/>
<use href="#mD2" x="297.23" y="826.69"/>
<use href="#mD2" x="310.47" y="815.99"/>
<use href="#mD2" x="319.91" y="806.21"/>
<use href="#mD2" x="293.82" y="827.56"/>
<use href="#mD2" x="284.87" y="836.52"/>
<use href="#mD2" x="320.9" y="806.33"/>
<use href="#mD2" x="305.04" y="819.78"/>
<use href="#mD2" x="326.81" y="800.38"/>
<use href="#mD2" x="287.62" y="836.56"/>
<use href="#mD2" x="315.32" y="811.39"/>
<use href="#mD2" x="290.14" y="833.67"/>
<use href="#mD2" x="300.53" y="824.88"/>
<use href="#mD2" x="319.75" y="806.26"/>
<use href="#mD2" x="320.41" y="805.98"/>
<use href="#mD2" x="313.3" y="813.58"/>
<use href="#mD2" x="322.87" y="803.58"/>
<use href="#mD2" x="316.69" y="809.59"/>
<use href="#mD2" x="328.04" y="797.83"/>
<use href="#mD2" x="290.31" y="831.86"/>
<use href="#mD2" x="325.54" y="800.05"/>
<use href="#mD2" x="320.37" y="805.28"/>
<use href="#mD2" x="322.08" y="803.29"/>
<use href="#mD2" x="297.98" y="826.37"/>
<use href="#mD2" x="328.43" y="801.04"/>
<use href="#mD2" x="320.11" y="807.74"/>
<use href="#mD2" x="294.46" y="830.15"/>
<use href="#mD2" x="293.46" y="829.25"/>
<use href="#mD2" x="315.25" y="809.84"/>
<use href="#mD2" x="320.15" y="805.39"/>
<use href="#mD2" x="327.51" y="799.24"/>
<use href="#mD2" x="287.02" y="834.23"/>
<use href="#mD2" x="298.54" y="824.11"/>
<use href="#mD2" x="320.93" y="806.12"/>
<use href="#mD2" x="284.93" y="839.19"/>
<use href="#mD2" x="302.55" y="821.12"/>
<use href="#mD2" x="342.86" y="786.16"/>
<use href="#mD2" x="361.78" y="766.65"/>
<use href="#mD2" x="333.24" y="795.58"/>
<use href="#mD2" x="346.3" y="780.35"/>
<use href="#mD2" x="334.53" y="792.94"/>
<use href="#mD2" x="361.44" y="768.47"/>
<use href="#mD2" x="366.15" y="763.47"/>
<use href="#mD2" x="362.97" y="764.38"/>
<use href="#mD2" x="343.69" y="783.31"/>
<use href="#mD2" x="349.59" y="779.22"/>
<use href="#mD2" x="361.9" y="768.45"/>
<use href="#mD2" x="330.58" y="799.22"/>
<use href="#mD2" x="347.42" y="780.57"/>
<use href="#mD2" x="283.5" y="839"/>
<use href="#mD2" x="373.5" y="756.3"/>
<use href="#mD2" x="389.5" y="743.7"/>
</g>
<g class="series-D3">
<use href="#mD3" x="299.72" y="822.88"/>
<use href="#mD3" x="322.99" y="798.83"/>
<use href="#mD3" x="327.17" y="795.16"/>
<use href="#mD3" x="285.74" y="834.45"/>
<use href="#mD3" x="327.54" y="795.34"/>
<use href="#mD3" x="312.1" y="810.11"/>
<use href="#mD3" x="315.11" y="806.94"/>
<use href="#mD3" x="299.94" y="821.75"/>
<use href="#mD3" x="321.91" y="799.29"/>
<use href="#mD3" x="303.77" y="816.37"/>
<use href="#mD3" x="317.12" y="804.82"/>
<use href="#mD3" x="298.72" y="824.96"/>
<use href="#mD3" x="325.24" y="798.33"/>
<use href="#mD3" x="310.35" y="812.22"/>
<use href="#mD3" x="317.75" y="803.7"/>
<use href="#mD3" x="318.56" y="804.38"/>
<use href="#mD3" x="303.17" y="819.03"/>
<use href="#mD3" x="320.52" y="800.88"/>
<use href="#mD3" x="328.06" y="793.15"/>
<use href="#mD3" x="296.01" y="826.58"/>
<use href="#mD3" x="321.85" y="799.9"/>
<use href="#mD3" x="288.17" y="831.92"/>
<use href="#mD3" x="290.18" y="830.6"/>
<use href="#mD3" x="297.7" y="824.38"/>
<use href="#mD3" x="301.89" y="820.52"/>
<use href="#mD3" x="290.97" y="831.57"/>
<use href="#mD3" x="291.65" y="830.16"/>
<use href="#mD3" x="287.62" y="834.26"/>
<use href="#mD3" x="301.18" y="820.66"/>
<use href="#mD3" x="292.63" y="828.69"/>
<use href="#mD3" x="321.72" y="799.07"/>
<use href="#mD3" x="297.92" y="825.06"/>
<use href="#mD3" x="304.17" y="816.5"/>
<use href="#mD3" x="318.18" y="804.63"/>
<use href="#mD3" x="325.69" y="796.24"/>
<use href="#mD3" x="312.38" y="810.83"/>
<use href="#mD3" x="284.75" y="835.75"/>
<use href="#mD3" x="299.65" y="822.04"/>
<use href="#mD3" x="294.61" y="827.72"/>
<use href="#mD3" x="318.09" y="803.19"/>
<use href="#mD3" x="321.18" y="801.81"/>
<use href="#mD3" x="313.79" y="808.67"/>
<use href="#mD3" x="315.44" y="805.98"/>
<use href="#mD3" x="327.15" y="794.63"/>
<use href="#mD3" x="301.3" y="819.82"/>
<use href="#mD3" x="291.73" y="829.31"/>
<use href="#mD3" x="346.14" y="774.3"/>
<use href="#mD3" x="334.17" y="788.48"/>
<use href="#mD3" x="342.21" y="779.26"/>
<use href="#mD3" x="350.9" y="770.75"/>
<use href="#mD3" x="348.21" y="775.68"/>
<use href="#mD3" x="355.39" y="766.88"/>
<use href="#mD3" x="351.51" y="770.06"/>
<use href="#mD3" x="359.44" y="762.96"/>
<use href="#mD3" x="355.64" y="764.9"/>
<use href="#mD3" x="333.97" y="787.09"/>
<use href="#mD3" x="349.56" y="773.2"/>
<use href="#mD3" x="349.49" y="772.62"/>
<use href="#mD3" x="282.5" y="838.5"/>
<use href="#mD3" x="370" y="751.3"/>
</g>
<g class="series-D4">
<use href="#mD4" x="291.87" y="828.79"/>
<use href="#mD4" x="315.14" y="806.24"/>
<use href="#mD4" x="298.89" y="821.22"/>
<use href="#mD4" x="322.15" y="798.77"/>
<use href="#mD4" x="312.27" y="809.13"/>
<use href="#mD4" x="283.79" y="836.11"/>
<use href="#mD4" x="321.53" y="800.54"/>
<use href="#mD4" x="286.97" y="834.38"/>
<use href="#mD4" x="297.69" y="823.27"/>
<use href="#mD4" x="292.15" y="827.75"/>
<use href="#mD4" x="322.43" y="797.82"/>
<use href="#mD4" x="283" y="836.97"/>
<use href="#mD4" x="305.82" y="814.72"/>
<use href="#mD4" x="311.95" y="807.66"/>
<use href="#mD4" x="300.27" y="819.49"/>
<use href="#mD4" x="293.54" y="826.02"/>
<use href="#mD4" x="320.92" y="800.19"/>
<use href="#mD4" x="329.83" y="792.04"/>
<use href="#mD4" x="287.29" y="832.56"/>
<use href="#mD4" x="315.44" y="805.1"/>
<use href="#mD4" x="290.39" y="829.91"/>
<use href="#mD4" x="290.87" y="828.47"/>
<use href="#mD4" x="303.01" y="818.84"/>
<use href="#mD4" x="290.98" y="830.19"/>
<use href="#mD4" x="316.29" y="805.04"/>
<use href="#mD4" x="328.17" y="792.92"/>
<use href="#mD4" x="316.7" y="804.57"/>
<use href="#mD4" x="282.63" y="837.08"/>
<use href="#mD4" x="312.03" y="809.32"/>
<use href="#mD4" x="288.44" y="829.12"/>
<use href="#mD4" x="296.62" y="824.18"/>
<use href="#mD4" x="299.43" y="820.91"/>
<use href="#mD4" x="303.75" y="817.17"/>
<use href="#mD4" x="289.06" y="830.45"/>
<use href="#mD4" x="330.27" y="790.77"/>
<use href="#mD4" x="304.71" y="815.6"/>
<use href="#mD4" x="286.25" y="833.08"/>
<use href="#mD4" x="291.65" y="828.8"/>
<use href="#mD4" x="325.29" y="793.63"/>
<use href="#mD4" x="328.34" y="792.42"/>
<use href="#mD4" x="300.48" y="819.01"/>
<use href="#mD4" x="288.32" y="832.28"/>
<use href="#mD4" x="309.84" y="810.83"/>
<use href="#mD4" x="321.89" y="798.3"/>
<use href="#mD4" x="284.05" y="835.95"/>
<use href="#mD4" x="284.64" y="836.16"/>
<use href="#mD4" x="359.36" y="761.19"/>
<use href="#mD4" x="337.04" y="785.81"/>
<use href="#mD4" x="343.56" y="778.73"/>
<use href="#mD4" x="334.47" y="787.59"/>
<use href="#mD4" x="349.37" y="770.26"/>
<use href="#mD4" x="345.71" y="776.68"/>
<use href="#mD4" x="331.31" y="789.34"/>
<use href="#mD4" x="352.79" y="767.68"/>
<use href="#mD4" x="351.88" y="768.2"/>
<use href="#mD4" x="335.41" y="785.63"/>
<use href="#mD4" x="332.24" y="791.26"/>
<use href="#mD4" x="337.06" y="784.17"/>
<use href="#mD4" x="276" y="844.1"/>
<use href="#mD4" x="375.1" y="745"/>
<use href="#mD4" x="423.7" y="696.3"/>
</g>
<g class="ln over">
<polyline points="276,844.3 293.3,831.5 326.8,804.5 357.1,780.5 370.8,769.7"/>
<polyline points="273.7,847.3 293.3,830.5 326.8,802.8 357.1,777.8 386.2,752.8 402.9,740.4 403.4,738.6 416.6,726.7 428.2,718.9 430.5,715.1 452.8,696.8 462.4,688 497.1,660.6 498.4,662.2"/>
<polyline points="283.5,839 330,797.5 373.5,756.3 389.5,743.7"/>
<polyline points="282.5,838.5 328,794.5 360,762.5 370,751.3"/>
<polyline points="276,844.1 281.5,838.6 328,793 363.2,758 375.1,745 423.7,696.3"/>
</g>
</g>
</g>
</svg></body></html>
